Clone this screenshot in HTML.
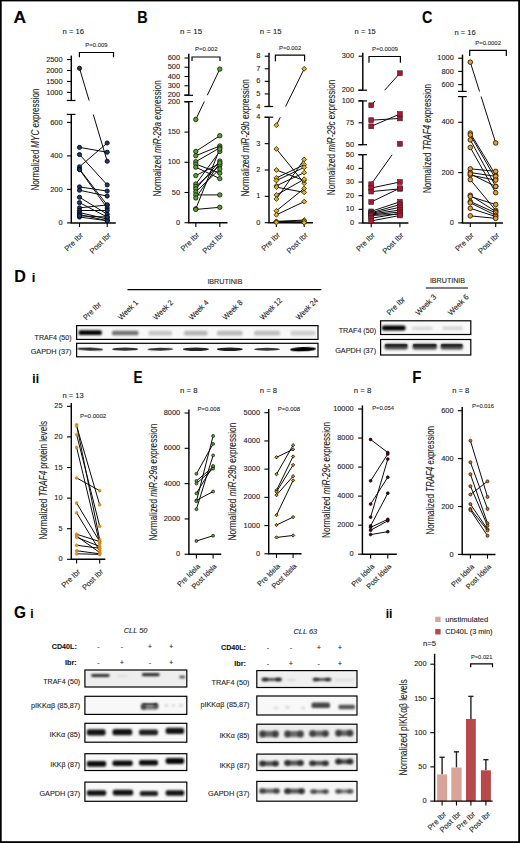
<!DOCTYPE html><html><head><meta charset="utf-8"><style>html,body{margin:0;padding:0;background:#fff;}body{width:520px;height:843px;overflow:hidden;position:relative;}text{stroke:#222;stroke-width:0.1px;}.brd{position:absolute;left:0;top:0;width:520px;height:843px;box-sizing:border-box;border:1.5px solid #000;pointer-events:none;}</style></head><body><svg width="520" height="843" viewBox="0 0 520 843" style="display:block;font-family:'Liberation Sans', sans-serif">
<defs>
<filter id="b1" x="-50%" y="-100%" width="200%" height="300%"><feGaussianBlur stdDeviation="0.9"/></filter>
<filter id="b2" x="-50%" y="-100%" width="200%" height="300%"><feGaussianBlur stdDeviation="1.3"/></filter>
<filter id="b05" x="-50%" y="-100%" width="200%" height="300%"><feGaussianBlur stdDeviation="0.6"/></filter>
</defs>
<rect x="0" y="0" width="520" height="843" fill="#fff"/>
<rect x="0" y="0" width="1.7" height="843" fill="#000"/><rect x="0" y="0" width="520" height="1.4" fill="#000"/><rect x="518.2" y="0" width="1.8" height="843" fill="#000"/><rect x="0" y="841.2" width="520" height="1.8" fill="#000"/>
<text x="13.50" y="22.80" font-size="16.6" text-anchor="start" font-weight="bold" textLength="12.60" lengthAdjust="spacingAndGlyphs" fill="#000">A</text>
<text x="137.30" y="23.00" font-size="16.6" text-anchor="start" font-weight="bold" textLength="10.40" lengthAdjust="spacingAndGlyphs" fill="#000">B</text>
<text x="422.00" y="22.80" font-size="16.6" text-anchor="start" font-weight="bold" textLength="10.40" lengthAdjust="spacingAndGlyphs" fill="#000">C</text>
<text x="14.20" y="281.60" font-size="16.6" text-anchor="start" font-weight="bold" textLength="11.60" lengthAdjust="spacingAndGlyphs" fill="#000">D</text>
<text x="31.70" y="281.60" font-size="13" text-anchor="start" font-weight="bold" fill="#000">i</text>
<text x="32.30" y="383.00" font-size="12" text-anchor="start" font-weight="bold" fill="#000">ii</text>
<text x="133.60" y="383.00" font-size="16.6" text-anchor="start" font-weight="bold" textLength="9.00" lengthAdjust="spacingAndGlyphs" fill="#000">E</text>
<text x="412.20" y="383.40" font-size="16.6" text-anchor="start" font-weight="bold" textLength="9.20" lengthAdjust="spacingAndGlyphs" fill="#000">F</text>
<text x="14.00" y="618.40" font-size="16.6" text-anchor="start" font-weight="bold" textLength="12.00" lengthAdjust="spacingAndGlyphs" fill="#000">G</text>
<text x="30.30" y="618.40" font-size="12" text-anchor="start" font-weight="bold" fill="#000">i</text>
<text x="385.70" y="617.60" font-size="12" text-anchor="start" font-weight="bold" fill="#000">ii</text>
<text x="73.25" y="34.40" font-size="7" text-anchor="middle" textLength="21.50" lengthAdjust="spacingAndGlyphs" fill="#222">n = 16</text>
<text x="96.40" y="46.90" font-size="5.6" text-anchor="middle" textLength="22.20" lengthAdjust="spacingAndGlyphs" fill="#333">P=0.009</text>
<path d="M79.40 57.30V52.50H113.50V57.30" fill="none" stroke="#000" stroke-width="1.2"/>
<text x="39.30" y="139.60" font-size="10.0" text-anchor="middle" textLength="102.00" lengthAdjust="spacingAndGlyphs" transform="rotate(-90 39.30 139.60)" fill="#222">Normalized <tspan font-style="italic">MYC</tspan> expression</text>
<clipPath id="cA"><rect x="0" y="0" width="520" height="100.5"/><rect x="0" y="114.4" width="520" height="200"/></clipPath>
<line x1="71.30" y1="55.60" x2="71.30" y2="100.50" stroke="#000" stroke-width="1.45"/>
<line x1="66.80" y1="100.50" x2="75.50" y2="100.50" stroke="#000" stroke-width="1.2"/>
<line x1="67.00" y1="59.55" x2="71.30" y2="59.55" stroke="#000" stroke-width="1.1"/>
<text x="62.60" y="61.65" font-size="7.4" text-anchor="end" fill="#222">2500</text>
<line x1="67.00" y1="70.50" x2="71.30" y2="70.50" stroke="#000" stroke-width="1.1"/>
<text x="62.60" y="72.60" font-size="7.4" text-anchor="end" fill="#222">2000</text>
<line x1="67.00" y1="81.45" x2="71.30" y2="81.45" stroke="#000" stroke-width="1.1"/>
<text x="62.60" y="83.55" font-size="7.4" text-anchor="end" fill="#222">1500</text>
<line x1="67.00" y1="92.40" x2="71.30" y2="92.40" stroke="#000" stroke-width="1.1"/>
<text x="62.60" y="94.50" font-size="7.4" text-anchor="end" fill="#222">1000</text>
<line x1="71.30" y1="114.40" x2="71.30" y2="222.90" stroke="#000" stroke-width="1.45"/>
<line x1="66.80" y1="114.40" x2="75.50" y2="114.40" stroke="#000" stroke-width="1.2"/>
<line x1="67.00" y1="122.40" x2="71.30" y2="122.40" stroke="#000" stroke-width="1.1"/>
<text x="62.60" y="124.50" font-size="7.4" text-anchor="end" fill="#222">600</text>
<line x1="67.00" y1="155.90" x2="71.30" y2="155.90" stroke="#000" stroke-width="1.1"/>
<text x="62.60" y="158.00" font-size="7.4" text-anchor="end" fill="#222">400</text>
<line x1="67.00" y1="189.40" x2="71.30" y2="189.40" stroke="#000" stroke-width="1.1"/>
<text x="62.60" y="191.50" font-size="7.4" text-anchor="end" fill="#222">200</text>
<line x1="67.00" y1="222.90" x2="71.30" y2="222.90" stroke="#000" stroke-width="1.1"/>
<text x="62.60" y="225.00" font-size="7.4" text-anchor="end" fill="#222">0</text>
<line x1="70.60" y1="222.90" x2="115.80" y2="222.90" stroke="#000" stroke-width="1.45"/>
<line x1="79.50" y1="222.90" x2="79.50" y2="227.10" stroke="#000" stroke-width="1.1"/>
<line x1="107.20" y1="222.90" x2="107.20" y2="227.10" stroke="#000" stroke-width="1.1"/>
<text x="83.60" y="235.70" font-size="7.6" text-anchor="end" transform="rotate(-45 83.60 235.70)" fill="#222">Pre Ibr</text>
<text x="111.30" y="235.70" font-size="7.6" text-anchor="end" transform="rotate(-45 111.30 235.70)" fill="#222">Post Ibr</text>
<g clip-path="url(#cA)">
<line x1="79.50" y1="68.31" x2="107.20" y2="161.26" stroke="#0a0a0a" stroke-width="1.0"/>
<line x1="79.50" y1="147.36" x2="107.20" y2="152.22" stroke="#0a0a0a" stroke-width="1.0"/>
<line x1="79.50" y1="154.56" x2="107.20" y2="184.88" stroke="#0a0a0a" stroke-width="1.0"/>
<line x1="79.50" y1="166.79" x2="107.20" y2="143.00" stroke="#0a0a0a" stroke-width="1.0"/>
<line x1="79.50" y1="169.13" x2="107.20" y2="204.98" stroke="#0a0a0a" stroke-width="1.0"/>
<line x1="79.50" y1="169.63" x2="107.20" y2="207.99" stroke="#0a0a0a" stroke-width="1.0"/>
<line x1="79.50" y1="186.89" x2="107.20" y2="191.07" stroke="#0a0a0a" stroke-width="1.0"/>
<line x1="79.50" y1="190.24" x2="107.20" y2="196.10" stroke="#0a0a0a" stroke-width="1.0"/>
<line x1="79.50" y1="197.27" x2="107.20" y2="214.19" stroke="#0a0a0a" stroke-width="1.0"/>
<line x1="79.50" y1="202.63" x2="107.20" y2="217.04" stroke="#0a0a0a" stroke-width="1.0"/>
<line x1="79.50" y1="207.83" x2="107.20" y2="204.98" stroke="#0a0a0a" stroke-width="1.0"/>
<line x1="79.50" y1="210.50" x2="107.20" y2="210.50" stroke="#0a0a0a" stroke-width="1.0"/>
<line x1="79.50" y1="212.52" x2="107.20" y2="219.05" stroke="#0a0a0a" stroke-width="1.0"/>
<line x1="79.50" y1="214.53" x2="107.20" y2="220.72" stroke="#0a0a0a" stroke-width="1.0"/>
<line x1="79.50" y1="217.04" x2="107.20" y2="220.72" stroke="#0a0a0a" stroke-width="1.0"/>
<line x1="79.50" y1="215.87" x2="107.20" y2="217.04" stroke="#0a0a0a" stroke-width="1.0"/>
</g>
<circle cx="79.50" cy="68.31" r="2.1" fill="#1b3a72" stroke="#000" stroke-width="0.8"/>
<circle cx="107.20" cy="161.26" r="2.1" fill="#1b3a72" stroke="#000" stroke-width="0.8"/>
<circle cx="79.50" cy="147.36" r="2.1" fill="#1b3a72" stroke="#000" stroke-width="0.8"/>
<circle cx="107.20" cy="152.22" r="2.1" fill="#1b3a72" stroke="#000" stroke-width="0.8"/>
<circle cx="79.50" cy="154.56" r="2.1" fill="#1b3a72" stroke="#000" stroke-width="0.8"/>
<circle cx="107.20" cy="184.88" r="2.1" fill="#1b3a72" stroke="#000" stroke-width="0.8"/>
<circle cx="79.50" cy="166.79" r="2.1" fill="#1b3a72" stroke="#000" stroke-width="0.8"/>
<circle cx="107.20" cy="143.00" r="2.1" fill="#1b3a72" stroke="#000" stroke-width="0.8"/>
<circle cx="79.50" cy="169.13" r="2.1" fill="#1b3a72" stroke="#000" stroke-width="0.8"/>
<circle cx="107.20" cy="204.98" r="2.1" fill="#1b3a72" stroke="#000" stroke-width="0.8"/>
<circle cx="79.50" cy="169.63" r="2.1" fill="#1b3a72" stroke="#000" stroke-width="0.8"/>
<circle cx="107.20" cy="207.99" r="2.1" fill="#1b3a72" stroke="#000" stroke-width="0.8"/>
<circle cx="79.50" cy="186.89" r="2.1" fill="#1b3a72" stroke="#000" stroke-width="0.8"/>
<circle cx="107.20" cy="191.07" r="2.1" fill="#1b3a72" stroke="#000" stroke-width="0.8"/>
<circle cx="79.50" cy="190.24" r="2.1" fill="#1b3a72" stroke="#000" stroke-width="0.8"/>
<circle cx="107.20" cy="196.10" r="2.1" fill="#1b3a72" stroke="#000" stroke-width="0.8"/>
<circle cx="79.50" cy="197.27" r="2.1" fill="#1b3a72" stroke="#000" stroke-width="0.8"/>
<circle cx="107.20" cy="214.19" r="2.1" fill="#1b3a72" stroke="#000" stroke-width="0.8"/>
<circle cx="79.50" cy="202.63" r="2.1" fill="#1b3a72" stroke="#000" stroke-width="0.8"/>
<circle cx="107.20" cy="217.04" r="2.1" fill="#1b3a72" stroke="#000" stroke-width="0.8"/>
<circle cx="79.50" cy="207.83" r="2.1" fill="#1b3a72" stroke="#000" stroke-width="0.8"/>
<circle cx="107.20" cy="204.98" r="2.1" fill="#1b3a72" stroke="#000" stroke-width="0.8"/>
<circle cx="79.50" cy="210.50" r="2.1" fill="#1b3a72" stroke="#000" stroke-width="0.8"/>
<circle cx="107.20" cy="210.50" r="2.1" fill="#1b3a72" stroke="#000" stroke-width="0.8"/>
<circle cx="79.50" cy="212.52" r="2.1" fill="#1b3a72" stroke="#000" stroke-width="0.8"/>
<circle cx="107.20" cy="219.05" r="2.1" fill="#1b3a72" stroke="#000" stroke-width="0.8"/>
<circle cx="79.50" cy="214.53" r="2.1" fill="#1b3a72" stroke="#000" stroke-width="0.8"/>
<circle cx="107.20" cy="220.72" r="2.1" fill="#1b3a72" stroke="#000" stroke-width="0.8"/>
<circle cx="79.50" cy="217.04" r="2.1" fill="#1b3a72" stroke="#000" stroke-width="0.8"/>
<circle cx="107.20" cy="220.72" r="2.1" fill="#1b3a72" stroke="#000" stroke-width="0.8"/>
<circle cx="79.50" cy="215.87" r="2.1" fill="#1b3a72" stroke="#000" stroke-width="0.8"/>
<circle cx="107.20" cy="217.04" r="2.1" fill="#1b3a72" stroke="#000" stroke-width="0.8"/>
<text x="191.00" y="34.40" font-size="7" text-anchor="middle" textLength="22.00" lengthAdjust="spacingAndGlyphs" fill="#222">n = 15</text>
<text x="206.25" y="51.00" font-size="5.6" text-anchor="middle" textLength="22.50" lengthAdjust="spacingAndGlyphs" fill="#333">P=0.002</text>
<path d="M192.00 61.00V57.00H220.00V61.00" fill="none" stroke="#000" stroke-width="1.2"/>
<text x="160.80" y="138.40" font-size="10.0" text-anchor="middle" textLength="116.20" lengthAdjust="spacingAndGlyphs" transform="rotate(-90 160.80 138.40)" fill="#222">Normalized <tspan font-style="italic">miR-29a</tspan> expression</text>
<clipPath id="cB1"><rect x="0" y="0" width="520" height="95.3"/><rect x="0" y="101.6" width="520" height="200"/></clipPath>
<line x1="188.80" y1="53.75" x2="188.80" y2="95.30" stroke="#000" stroke-width="1.45"/>
<line x1="184.30" y1="95.30" x2="193.00" y2="95.30" stroke="#000" stroke-width="1.2"/>
<line x1="184.50" y1="58.00" x2="188.80" y2="58.00" stroke="#000" stroke-width="1.1"/>
<text x="180.10" y="60.10" font-size="7.4" text-anchor="end" fill="#222">600</text>
<line x1="184.50" y1="67.25" x2="188.80" y2="67.25" stroke="#000" stroke-width="1.1"/>
<text x="180.10" y="69.35" font-size="7.4" text-anchor="end" fill="#222">500</text>
<line x1="184.50" y1="76.50" x2="188.80" y2="76.50" stroke="#000" stroke-width="1.1"/>
<text x="180.10" y="78.60" font-size="7.4" text-anchor="end" fill="#222">400</text>
<line x1="184.50" y1="85.75" x2="188.80" y2="85.75" stroke="#000" stroke-width="1.1"/>
<text x="180.10" y="87.85" font-size="7.4" text-anchor="end" fill="#222">300</text>
<line x1="184.50" y1="95.00" x2="188.80" y2="95.00" stroke="#000" stroke-width="1.1"/>
<text x="180.10" y="97.10" font-size="7.4" text-anchor="end" fill="#222">200</text>
<line x1="188.80" y1="101.60" x2="188.80" y2="222.70" stroke="#000" stroke-width="1.45"/>
<line x1="184.30" y1="101.60" x2="193.00" y2="101.60" stroke="#000" stroke-width="1.2"/>
<line x1="184.50" y1="101.90" x2="188.80" y2="101.90" stroke="#000" stroke-width="1.1"/>
<text x="180.10" y="104.00" font-size="7.4" text-anchor="end" fill="#222">200</text>
<line x1="184.50" y1="132.10" x2="188.80" y2="132.10" stroke="#000" stroke-width="1.1"/>
<text x="180.10" y="134.20" font-size="7.4" text-anchor="end" fill="#222">150</text>
<line x1="184.50" y1="162.30" x2="188.80" y2="162.30" stroke="#000" stroke-width="1.1"/>
<text x="180.10" y="164.40" font-size="7.4" text-anchor="end" fill="#222">100</text>
<line x1="184.50" y1="192.50" x2="188.80" y2="192.50" stroke="#000" stroke-width="1.1"/>
<text x="180.10" y="194.60" font-size="7.4" text-anchor="end" fill="#222">50</text>
<line x1="184.50" y1="222.70" x2="188.80" y2="222.70" stroke="#000" stroke-width="1.1"/>
<text x="180.10" y="224.80" font-size="7.4" text-anchor="end" fill="#222">0</text>
<line x1="188.10" y1="222.70" x2="227.50" y2="222.70" stroke="#000" stroke-width="1.45"/>
<line x1="195.80" y1="222.70" x2="195.80" y2="226.90" stroke="#000" stroke-width="1.1"/>
<line x1="219.80" y1="222.70" x2="219.80" y2="226.90" stroke="#000" stroke-width="1.1"/>
<text x="199.90" y="235.50" font-size="7.6" text-anchor="end" transform="rotate(-45 199.90 235.50)" fill="#222">Pre Ibr</text>
<text x="223.90" y="235.50" font-size="7.6" text-anchor="end" transform="rotate(-45 223.90 235.50)" fill="#222">Post Ibr</text>
<g clip-path="url(#cB1)">
<line x1="195.80" y1="119.42" x2="219.80" y2="69.10" stroke="#0a0a0a" stroke-width="1.0"/>
<line x1="195.80" y1="151.43" x2="219.80" y2="135.72" stroke="#0a0a0a" stroke-width="1.0"/>
<line x1="195.80" y1="155.66" x2="219.80" y2="145.99" stroke="#0a0a0a" stroke-width="1.0"/>
<line x1="195.80" y1="161.70" x2="219.80" y2="147.80" stroke="#0a0a0a" stroke-width="1.0"/>
<line x1="195.80" y1="164.11" x2="219.80" y2="173.17" stroke="#0a0a0a" stroke-width="1.0"/>
<line x1="195.80" y1="167.13" x2="219.80" y2="178.61" stroke="#0a0a0a" stroke-width="1.0"/>
<line x1="195.80" y1="175.59" x2="219.80" y2="163.51" stroke="#0a0a0a" stroke-width="1.0"/>
<line x1="195.80" y1="184.04" x2="219.80" y2="151.43" stroke="#0a0a0a" stroke-width="1.0"/>
<line x1="195.80" y1="186.46" x2="219.80" y2="165.32" stroke="#0a0a0a" stroke-width="1.0"/>
<line x1="195.80" y1="188.88" x2="219.80" y2="161.09" stroke="#0a0a0a" stroke-width="1.0"/>
<line x1="195.80" y1="191.90" x2="219.80" y2="168.94" stroke="#0a0a0a" stroke-width="1.0"/>
<line x1="195.80" y1="194.92" x2="219.80" y2="194.92" stroke="#0a0a0a" stroke-width="1.0"/>
<line x1="195.80" y1="197.94" x2="219.80" y2="162.90" stroke="#0a0a0a" stroke-width="1.0"/>
<line x1="195.80" y1="208.81" x2="219.80" y2="149.01" stroke="#0a0a0a" stroke-width="1.0"/>
<line x1="195.80" y1="209.41" x2="219.80" y2="207.30" stroke="#0a0a0a" stroke-width="1.0"/>
</g>
<circle cx="195.80" cy="119.42" r="2.2" fill="#58a22e" stroke="#111" stroke-width="0.8"/>
<circle cx="219.80" cy="69.10" r="2.2" fill="#58a22e" stroke="#111" stroke-width="0.8"/>
<circle cx="195.80" cy="151.43" r="2.2" fill="#58a22e" stroke="#111" stroke-width="0.8"/>
<circle cx="219.80" cy="135.72" r="2.2" fill="#58a22e" stroke="#111" stroke-width="0.8"/>
<circle cx="195.80" cy="155.66" r="2.2" fill="#58a22e" stroke="#111" stroke-width="0.8"/>
<circle cx="219.80" cy="145.99" r="2.2" fill="#58a22e" stroke="#111" stroke-width="0.8"/>
<circle cx="195.80" cy="161.70" r="2.2" fill="#58a22e" stroke="#111" stroke-width="0.8"/>
<circle cx="219.80" cy="147.80" r="2.2" fill="#58a22e" stroke="#111" stroke-width="0.8"/>
<circle cx="195.80" cy="164.11" r="2.2" fill="#58a22e" stroke="#111" stroke-width="0.8"/>
<circle cx="219.80" cy="173.17" r="2.2" fill="#58a22e" stroke="#111" stroke-width="0.8"/>
<circle cx="195.80" cy="167.13" r="2.2" fill="#58a22e" stroke="#111" stroke-width="0.8"/>
<circle cx="219.80" cy="178.61" r="2.2" fill="#58a22e" stroke="#111" stroke-width="0.8"/>
<circle cx="195.80" cy="175.59" r="2.2" fill="#58a22e" stroke="#111" stroke-width="0.8"/>
<circle cx="219.80" cy="163.51" r="2.2" fill="#58a22e" stroke="#111" stroke-width="0.8"/>
<circle cx="195.80" cy="184.04" r="2.2" fill="#58a22e" stroke="#111" stroke-width="0.8"/>
<circle cx="219.80" cy="151.43" r="2.2" fill="#58a22e" stroke="#111" stroke-width="0.8"/>
<circle cx="195.80" cy="186.46" r="2.2" fill="#58a22e" stroke="#111" stroke-width="0.8"/>
<circle cx="219.80" cy="165.32" r="2.2" fill="#58a22e" stroke="#111" stroke-width="0.8"/>
<circle cx="195.80" cy="188.88" r="2.2" fill="#58a22e" stroke="#111" stroke-width="0.8"/>
<circle cx="219.80" cy="161.09" r="2.2" fill="#58a22e" stroke="#111" stroke-width="0.8"/>
<circle cx="195.80" cy="191.90" r="2.2" fill="#58a22e" stroke="#111" stroke-width="0.8"/>
<circle cx="219.80" cy="168.94" r="2.2" fill="#58a22e" stroke="#111" stroke-width="0.8"/>
<circle cx="195.80" cy="194.92" r="2.2" fill="#58a22e" stroke="#111" stroke-width="0.8"/>
<circle cx="219.80" cy="194.92" r="2.2" fill="#58a22e" stroke="#111" stroke-width="0.8"/>
<circle cx="195.80" cy="197.94" r="2.2" fill="#58a22e" stroke="#111" stroke-width="0.8"/>
<circle cx="219.80" cy="162.90" r="2.2" fill="#58a22e" stroke="#111" stroke-width="0.8"/>
<circle cx="195.80" cy="208.81" r="2.2" fill="#58a22e" stroke="#111" stroke-width="0.8"/>
<circle cx="219.80" cy="149.01" r="2.2" fill="#58a22e" stroke="#111" stroke-width="0.8"/>
<circle cx="195.80" cy="209.41" r="2.2" fill="#58a22e" stroke="#111" stroke-width="0.8"/>
<circle cx="219.80" cy="207.30" r="2.2" fill="#58a22e" stroke="#111" stroke-width="0.8"/>
<text x="270.65" y="34.40" font-size="7" text-anchor="middle" textLength="21.70" lengthAdjust="spacingAndGlyphs" fill="#222">n = 15</text>
<text x="290.10" y="50.20" font-size="5.6" text-anchor="middle" textLength="22.20" lengthAdjust="spacingAndGlyphs" fill="#333">P=0.002</text>
<path d="M275.40 61.30V55.20H304.60V61.30" fill="none" stroke="#000" stroke-width="1.2"/>
<text x="248.90" y="137.80" font-size="10.0" text-anchor="middle" textLength="117.40" lengthAdjust="spacingAndGlyphs" transform="rotate(-90 248.90 137.80)" fill="#222">Normalized <tspan font-style="italic">miR-29b</tspan> expression</text>
<clipPath id="cB2"><rect x="0" y="0" width="520" height="106.5"/><rect x="0" y="117.2" width="520" height="200"/></clipPath>
<line x1="269.00" y1="52.70" x2="269.00" y2="106.50" stroke="#000" stroke-width="1.45"/>
<line x1="264.50" y1="106.50" x2="273.20" y2="106.50" stroke="#000" stroke-width="1.2"/>
<line x1="264.70" y1="56.20" x2="269.00" y2="56.20" stroke="#000" stroke-width="1.1"/>
<text x="260.30" y="58.30" font-size="7.4" text-anchor="end" fill="#222">8</text>
<line x1="264.70" y1="68.78" x2="269.00" y2="68.78" stroke="#000" stroke-width="1.1"/>
<text x="260.30" y="70.88" font-size="7.4" text-anchor="end" fill="#222">7</text>
<line x1="264.70" y1="81.35" x2="269.00" y2="81.35" stroke="#000" stroke-width="1.1"/>
<text x="260.30" y="83.45" font-size="7.4" text-anchor="end" fill="#222">6</text>
<line x1="264.70" y1="93.92" x2="269.00" y2="93.92" stroke="#000" stroke-width="1.1"/>
<text x="260.30" y="96.02" font-size="7.4" text-anchor="end" fill="#222">5</text>
<line x1="264.70" y1="106.50" x2="269.00" y2="106.50" stroke="#000" stroke-width="1.1"/>
<text x="260.30" y="108.60" font-size="7.4" text-anchor="end" fill="#222">4</text>
<line x1="269.00" y1="117.20" x2="269.00" y2="222.70" stroke="#000" stroke-width="1.45"/>
<line x1="264.50" y1="117.20" x2="273.20" y2="117.20" stroke="#000" stroke-width="1.2"/>
<line x1="264.70" y1="117.30" x2="269.00" y2="117.30" stroke="#000" stroke-width="1.1"/>
<text x="260.30" y="119.40" font-size="7.4" text-anchor="end" fill="#222">4</text>
<line x1="264.70" y1="143.65" x2="269.00" y2="143.65" stroke="#000" stroke-width="1.1"/>
<text x="260.30" y="145.75" font-size="7.4" text-anchor="end" fill="#222">3</text>
<line x1="264.70" y1="170.00" x2="269.00" y2="170.00" stroke="#000" stroke-width="1.1"/>
<text x="260.30" y="172.10" font-size="7.4" text-anchor="end" fill="#222">2</text>
<line x1="264.70" y1="196.35" x2="269.00" y2="196.35" stroke="#000" stroke-width="1.1"/>
<text x="260.30" y="198.45" font-size="7.4" text-anchor="end" fill="#222">1</text>
<line x1="264.70" y1="222.70" x2="269.00" y2="222.70" stroke="#000" stroke-width="1.1"/>
<text x="260.30" y="224.80" font-size="7.4" text-anchor="end" fill="#222">0</text>
<line x1="268.30" y1="222.70" x2="313.00" y2="222.70" stroke="#000" stroke-width="1.45"/>
<line x1="276.40" y1="222.70" x2="276.40" y2="226.90" stroke="#000" stroke-width="1.1"/>
<line x1="304.20" y1="222.70" x2="304.20" y2="226.90" stroke="#000" stroke-width="1.1"/>
<text x="280.50" y="235.50" font-size="7.6" text-anchor="end" transform="rotate(-45 280.50 235.50)" fill="#222">Pre Ibr</text>
<text x="308.30" y="235.50" font-size="7.6" text-anchor="end" transform="rotate(-45 308.30 235.50)" fill="#222">Post Ibr</text>
<g clip-path="url(#cB2)">
<line x1="276.40" y1="125.20" x2="304.20" y2="68.78" stroke="#0a0a0a" stroke-width="1.0"/>
<line x1="276.40" y1="148.92" x2="304.20" y2="183.17" stroke="#0a0a0a" stroke-width="1.0"/>
<line x1="276.40" y1="170.00" x2="304.20" y2="180.54" stroke="#0a0a0a" stroke-width="1.0"/>
<line x1="276.40" y1="177.91" x2="304.20" y2="164.73" stroke="#0a0a0a" stroke-width="1.0"/>
<line x1="276.40" y1="180.54" x2="304.20" y2="167.36" stroke="#0a0a0a" stroke-width="1.0"/>
<line x1="276.40" y1="185.81" x2="304.20" y2="172.63" stroke="#0a0a0a" stroke-width="1.0"/>
<line x1="276.40" y1="187.13" x2="304.20" y2="192.40" stroke="#0a0a0a" stroke-width="1.0"/>
<line x1="276.40" y1="195.03" x2="304.20" y2="179.22" stroke="#0a0a0a" stroke-width="1.0"/>
<line x1="276.40" y1="198.98" x2="304.20" y2="159.46" stroke="#0a0a0a" stroke-width="1.0"/>
<line x1="276.40" y1="210.84" x2="304.20" y2="188.44" stroke="#0a0a0a" stroke-width="1.0"/>
<line x1="276.40" y1="214.79" x2="304.20" y2="201.62" stroke="#0a0a0a" stroke-width="1.0"/>
<line x1="276.40" y1="221.38" x2="304.20" y2="220.06" stroke="#0a0a0a" stroke-width="1.0"/>
<line x1="276.40" y1="222.17" x2="304.20" y2="222.17" stroke="#0a0a0a" stroke-width="1.0"/>
<line x1="276.40" y1="221.65" x2="304.20" y2="221.12" stroke="#0a0a0a" stroke-width="1.0"/>
<line x1="276.40" y1="222.44" x2="304.20" y2="222.70" stroke="#0a0a0a" stroke-width="1.0"/>
</g>
<path d="M276.40 122.75L278.85 125.20L276.40 127.66L273.95 125.20Z" fill="#e9b30e" stroke="#111" stroke-width="0.75"/>
<path d="M304.20 66.33L306.65 68.78L304.20 71.23L301.75 68.78Z" fill="#e9b30e" stroke="#111" stroke-width="0.75"/>
<path d="M276.40 146.47L278.85 148.92L276.40 151.37L273.95 148.92Z" fill="#e9b30e" stroke="#111" stroke-width="0.75"/>
<path d="M304.20 180.72L306.65 183.17L304.20 185.62L301.75 183.17Z" fill="#e9b30e" stroke="#111" stroke-width="0.75"/>
<path d="M276.40 167.55L278.85 170.00L276.40 172.45L273.95 170.00Z" fill="#e9b30e" stroke="#111" stroke-width="0.75"/>
<path d="M304.20 178.09L306.65 180.54L304.20 182.99L301.75 180.54Z" fill="#e9b30e" stroke="#111" stroke-width="0.75"/>
<path d="M276.40 175.46L278.85 177.91L276.40 180.35L273.95 177.91Z" fill="#e9b30e" stroke="#111" stroke-width="0.75"/>
<path d="M304.20 162.28L306.65 164.73L304.20 167.18L301.75 164.73Z" fill="#e9b30e" stroke="#111" stroke-width="0.75"/>
<path d="M276.40 178.09L278.85 180.54L276.40 182.99L273.95 180.54Z" fill="#e9b30e" stroke="#111" stroke-width="0.75"/>
<path d="M304.20 164.91L306.65 167.36L304.20 169.81L301.75 167.36Z" fill="#e9b30e" stroke="#111" stroke-width="0.75"/>
<path d="M276.40 183.36L278.85 185.81L276.40 188.26L273.95 185.81Z" fill="#e9b30e" stroke="#111" stroke-width="0.75"/>
<path d="M304.20 170.19L306.65 172.63L304.20 175.08L301.75 172.63Z" fill="#e9b30e" stroke="#111" stroke-width="0.75"/>
<path d="M276.40 184.68L278.85 187.13L276.40 189.58L273.95 187.13Z" fill="#e9b30e" stroke="#111" stroke-width="0.75"/>
<path d="M304.20 189.95L306.65 192.40L304.20 194.85L301.75 192.40Z" fill="#e9b30e" stroke="#111" stroke-width="0.75"/>
<path d="M276.40 192.58L278.85 195.03L276.40 197.48L273.95 195.03Z" fill="#e9b30e" stroke="#111" stroke-width="0.75"/>
<path d="M304.20 176.77L306.65 179.22L304.20 181.67L301.75 179.22Z" fill="#e9b30e" stroke="#111" stroke-width="0.75"/>
<path d="M276.40 196.53L278.85 198.98L276.40 201.43L273.95 198.98Z" fill="#e9b30e" stroke="#111" stroke-width="0.75"/>
<path d="M304.20 157.01L306.65 159.46L304.20 161.91L301.75 159.46Z" fill="#e9b30e" stroke="#111" stroke-width="0.75"/>
<path d="M276.40 208.39L278.85 210.84L276.40 213.29L273.95 210.84Z" fill="#e9b30e" stroke="#111" stroke-width="0.75"/>
<path d="M304.20 186.00L306.65 188.44L304.20 190.89L301.75 188.44Z" fill="#e9b30e" stroke="#111" stroke-width="0.75"/>
<path d="M276.40 212.34L278.85 214.79L276.40 217.24L273.95 214.79Z" fill="#e9b30e" stroke="#111" stroke-width="0.75"/>
<path d="M304.20 199.17L306.65 201.62L304.20 204.07L301.75 201.62Z" fill="#e9b30e" stroke="#111" stroke-width="0.75"/>
<path d="M276.40 218.93L278.85 221.38L276.40 223.83L273.95 221.38Z" fill="#e9b30e" stroke="#111" stroke-width="0.75"/>
<path d="M304.20 217.62L306.65 220.06L304.20 222.51L301.75 220.06Z" fill="#e9b30e" stroke="#111" stroke-width="0.75"/>
<path d="M276.40 219.72L278.85 222.17L276.40 224.62L273.95 222.17Z" fill="#e9b30e" stroke="#111" stroke-width="0.75"/>
<path d="M304.20 219.72L306.65 222.17L304.20 224.62L301.75 222.17Z" fill="#e9b30e" stroke="#111" stroke-width="0.75"/>
<path d="M276.40 219.20L278.85 221.65L276.40 224.10L273.95 221.65Z" fill="#e9b30e" stroke="#111" stroke-width="0.75"/>
<path d="M304.20 218.67L306.65 221.12L304.20 223.57L301.75 221.12Z" fill="#e9b30e" stroke="#111" stroke-width="0.75"/>
<path d="M276.40 219.99L278.85 222.44L276.40 224.89L273.95 222.44Z" fill="#e9b30e" stroke="#111" stroke-width="0.75"/>
<path d="M304.20 220.25L306.65 222.70L304.20 225.15L301.75 222.70Z" fill="#e9b30e" stroke="#111" stroke-width="0.75"/>
<text x="365.20" y="34.40" font-size="7" text-anchor="middle" textLength="21.20" lengthAdjust="spacingAndGlyphs" fill="#222">n = 15</text>
<text x="384.90" y="51.30" font-size="5.6" text-anchor="middle" textLength="26.00" lengthAdjust="spacingAndGlyphs" fill="#333">P=0.0009</text>
<path d="M369.00 62.70V56.50H400.40V62.70" fill="none" stroke="#000" stroke-width="1.2"/>
<text x="334.80" y="137.50" font-size="10.0" text-anchor="middle" textLength="115.50" lengthAdjust="spacingAndGlyphs" transform="rotate(-90 334.80 137.50)" fill="#222">Normalized <tspan font-style="italic">miR-29c</tspan> expression</text>
<clipPath id="cB3"><rect x="0" y="0" width="520" height="90.2"/><rect x="0" y="100.9" width="520" height="43.8"/><rect x="0" y="154.7" width="520" height="200"/></clipPath>
<line x1="362.80" y1="52.70" x2="362.80" y2="90.20" stroke="#000" stroke-width="1.45"/>
<line x1="358.30" y1="90.20" x2="367.00" y2="90.20" stroke="#000" stroke-width="1.2"/>
<line x1="358.50" y1="56.20" x2="362.80" y2="56.20" stroke="#000" stroke-width="1.1"/>
<text x="354.10" y="58.30" font-size="7.4" text-anchor="end" fill="#222">300</text>
<line x1="358.50" y1="90.20" x2="362.80" y2="90.20" stroke="#000" stroke-width="1.1"/>
<text x="354.10" y="92.30" font-size="7.4" text-anchor="end" fill="#222">200</text>
<line x1="362.80" y1="100.90" x2="362.80" y2="144.70" stroke="#000" stroke-width="1.45"/>
<line x1="358.30" y1="100.90" x2="367.00" y2="100.90" stroke="#000" stroke-width="1.2"/>
<line x1="358.30" y1="144.70" x2="367.00" y2="144.70" stroke="#000" stroke-width="1.2"/>
<line x1="358.50" y1="100.90" x2="362.80" y2="100.90" stroke="#000" stroke-width="1.1"/>
<text x="354.10" y="103.00" font-size="7.4" text-anchor="end" fill="#222">100</text>
<line x1="358.50" y1="122.80" x2="362.80" y2="122.80" stroke="#000" stroke-width="1.1"/>
<text x="354.10" y="124.90" font-size="7.4" text-anchor="end" fill="#222">75</text>
<line x1="358.50" y1="144.70" x2="362.80" y2="144.70" stroke="#000" stroke-width="1.1"/>
<text x="354.10" y="146.80" font-size="7.4" text-anchor="end" fill="#222">50</text>
<line x1="362.80" y1="154.70" x2="362.80" y2="223.00" stroke="#000" stroke-width="1.45"/>
<line x1="358.30" y1="154.70" x2="367.00" y2="154.70" stroke="#000" stroke-width="1.2"/>
<line x1="358.50" y1="154.70" x2="362.80" y2="154.70" stroke="#000" stroke-width="1.1"/>
<text x="354.10" y="156.80" font-size="7.4" text-anchor="end" fill="#222">50</text>
<line x1="358.50" y1="168.36" x2="362.80" y2="168.36" stroke="#000" stroke-width="1.1"/>
<text x="354.10" y="170.46" font-size="7.4" text-anchor="end" fill="#222">40</text>
<line x1="358.50" y1="182.02" x2="362.80" y2="182.02" stroke="#000" stroke-width="1.1"/>
<text x="354.10" y="184.12" font-size="7.4" text-anchor="end" fill="#222">30</text>
<line x1="358.50" y1="195.68" x2="362.80" y2="195.68" stroke="#000" stroke-width="1.1"/>
<text x="354.10" y="197.78" font-size="7.4" text-anchor="end" fill="#222">20</text>
<line x1="358.50" y1="209.34" x2="362.80" y2="209.34" stroke="#000" stroke-width="1.1"/>
<text x="354.10" y="211.44" font-size="7.4" text-anchor="end" fill="#222">10</text>
<line x1="358.50" y1="223.00" x2="362.80" y2="223.00" stroke="#000" stroke-width="1.1"/>
<text x="354.10" y="225.10" font-size="7.4" text-anchor="end" fill="#222">0</text>
<line x1="362.10" y1="223.00" x2="408.40" y2="223.00" stroke="#000" stroke-width="1.45"/>
<line x1="371.20" y1="223.00" x2="371.20" y2="227.20" stroke="#000" stroke-width="1.1"/>
<line x1="399.90" y1="223.00" x2="399.90" y2="227.20" stroke="#000" stroke-width="1.1"/>
<text x="375.30" y="235.80" font-size="7.6" text-anchor="end" transform="rotate(-45 375.30 235.80)" fill="#222">Pre Ibr</text>
<text x="404.00" y="235.80" font-size="7.6" text-anchor="end" transform="rotate(-45 404.00 235.80)" fill="#222">Post Ibr</text>
<g clip-path="url(#cB3)">
<line x1="371.20" y1="105.28" x2="399.90" y2="73.20" stroke="#0a0a0a" stroke-width="1.0"/>
<line x1="371.20" y1="120.17" x2="399.90" y2="118.42" stroke="#0a0a0a" stroke-width="1.0"/>
<line x1="371.20" y1="126.30" x2="399.90" y2="114.04" stroke="#0a0a0a" stroke-width="1.0"/>
<line x1="371.20" y1="184.21" x2="399.90" y2="143.82" stroke="#0a0a0a" stroke-width="1.0"/>
<line x1="371.20" y1="188.03" x2="399.90" y2="182.02" stroke="#0a0a0a" stroke-width="1.0"/>
<line x1="371.20" y1="191.58" x2="399.90" y2="188.85" stroke="#0a0a0a" stroke-width="1.0"/>
<line x1="371.20" y1="201.96" x2="399.90" y2="188.17" stroke="#0a0a0a" stroke-width="1.0"/>
<line x1="371.20" y1="211.39" x2="399.90" y2="201.83" stroke="#0a0a0a" stroke-width="1.0"/>
<line x1="371.20" y1="212.75" x2="399.90" y2="204.56" stroke="#0a0a0a" stroke-width="1.0"/>
<line x1="371.20" y1="213.44" x2="399.90" y2="207.29" stroke="#0a0a0a" stroke-width="1.0"/>
<line x1="371.20" y1="214.12" x2="399.90" y2="210.02" stroke="#0a0a0a" stroke-width="1.0"/>
<line x1="371.20" y1="214.80" x2="399.90" y2="212.07" stroke="#0a0a0a" stroke-width="1.0"/>
<line x1="371.20" y1="215.49" x2="399.90" y2="214.12" stroke="#0a0a0a" stroke-width="1.0"/>
<line x1="371.20" y1="218.22" x2="399.90" y2="213.44" stroke="#0a0a0a" stroke-width="1.0"/>
<line x1="371.20" y1="220.95" x2="399.90" y2="215.49" stroke="#0a0a0a" stroke-width="1.0"/>
</g>
<rect x="368.80" y="102.88" width="4.80" height="4.80" fill="#b8102e" stroke="#222" stroke-width="0.6"/>
<rect x="397.50" y="70.80" width="4.80" height="4.80" fill="#b8102e" stroke="#222" stroke-width="0.6"/>
<rect x="368.80" y="117.77" width="4.80" height="4.80" fill="#b8102e" stroke="#222" stroke-width="0.6"/>
<rect x="397.50" y="116.02" width="4.80" height="4.80" fill="#b8102e" stroke="#222" stroke-width="0.6"/>
<rect x="368.80" y="123.90" width="4.80" height="4.80" fill="#b8102e" stroke="#222" stroke-width="0.6"/>
<rect x="397.50" y="111.64" width="4.80" height="4.80" fill="#b8102e" stroke="#222" stroke-width="0.6"/>
<rect x="368.80" y="181.81" width="4.80" height="4.80" fill="#b8102e" stroke="#222" stroke-width="0.6"/>
<rect x="397.50" y="141.42" width="4.80" height="4.80" fill="#b8102e" stroke="#222" stroke-width="0.6"/>
<rect x="368.80" y="185.63" width="4.80" height="4.80" fill="#b8102e" stroke="#222" stroke-width="0.6"/>
<rect x="397.50" y="179.62" width="4.80" height="4.80" fill="#b8102e" stroke="#222" stroke-width="0.6"/>
<rect x="368.80" y="189.18" width="4.80" height="4.80" fill="#b8102e" stroke="#222" stroke-width="0.6"/>
<rect x="397.50" y="186.45" width="4.80" height="4.80" fill="#b8102e" stroke="#222" stroke-width="0.6"/>
<rect x="368.80" y="199.56" width="4.80" height="4.80" fill="#b8102e" stroke="#222" stroke-width="0.6"/>
<rect x="397.50" y="185.77" width="4.80" height="4.80" fill="#b8102e" stroke="#222" stroke-width="0.6"/>
<rect x="368.80" y="208.99" width="4.80" height="4.80" fill="#b8102e" stroke="#222" stroke-width="0.6"/>
<rect x="397.50" y="199.43" width="4.80" height="4.80" fill="#b8102e" stroke="#222" stroke-width="0.6"/>
<rect x="368.80" y="210.35" width="4.80" height="4.80" fill="#b8102e" stroke="#222" stroke-width="0.6"/>
<rect x="397.50" y="202.16" width="4.80" height="4.80" fill="#b8102e" stroke="#222" stroke-width="0.6"/>
<rect x="368.80" y="211.04" width="4.80" height="4.80" fill="#b8102e" stroke="#222" stroke-width="0.6"/>
<rect x="397.50" y="204.89" width="4.80" height="4.80" fill="#b8102e" stroke="#222" stroke-width="0.6"/>
<rect x="368.80" y="211.72" width="4.80" height="4.80" fill="#b8102e" stroke="#222" stroke-width="0.6"/>
<rect x="397.50" y="207.62" width="4.80" height="4.80" fill="#b8102e" stroke="#222" stroke-width="0.6"/>
<rect x="368.80" y="212.40" width="4.80" height="4.80" fill="#b8102e" stroke="#222" stroke-width="0.6"/>
<rect x="397.50" y="209.67" width="4.80" height="4.80" fill="#b8102e" stroke="#222" stroke-width="0.6"/>
<rect x="368.80" y="213.09" width="4.80" height="4.80" fill="#b8102e" stroke="#222" stroke-width="0.6"/>
<rect x="397.50" y="211.72" width="4.80" height="4.80" fill="#b8102e" stroke="#222" stroke-width="0.6"/>
<rect x="368.80" y="215.82" width="4.80" height="4.80" fill="#b8102e" stroke="#222" stroke-width="0.6"/>
<rect x="397.50" y="211.04" width="4.80" height="4.80" fill="#b8102e" stroke="#222" stroke-width="0.6"/>
<rect x="368.80" y="218.55" width="4.80" height="4.80" fill="#b8102e" stroke="#222" stroke-width="0.6"/>
<rect x="397.50" y="213.09" width="4.80" height="4.80" fill="#b8102e" stroke="#222" stroke-width="0.6"/>
<text x="465.00" y="34.50" font-size="7" text-anchor="middle" textLength="21.20" lengthAdjust="spacingAndGlyphs" fill="#222">n = 16</text>
<text x="488.10" y="45.10" font-size="5.6" text-anchor="middle" textLength="25.80" lengthAdjust="spacingAndGlyphs" fill="#333">P=0.0002</text>
<path d="M469.70 56.00V50.30H506.30V56.00" fill="none" stroke="#000" stroke-width="1.2"/>
<text x="430.50" y="138.50" font-size="10.0" text-anchor="middle" textLength="109.10" lengthAdjust="spacingAndGlyphs" transform="rotate(-90 430.50 138.50)" fill="#222">Normalized <tspan font-style="italic">TRAF4</tspan> expression</text>
<clipPath id="cC"><rect x="0" y="0" width="520" height="91.4"/><rect x="0" y="96.6" width="520" height="200"/></clipPath>
<line x1="462.50" y1="54.60" x2="462.50" y2="91.40" stroke="#000" stroke-width="1.45"/>
<line x1="458.00" y1="91.40" x2="466.70" y2="91.40" stroke="#000" stroke-width="1.2"/>
<line x1="458.20" y1="58.20" x2="462.50" y2="58.20" stroke="#000" stroke-width="1.1"/>
<text x="453.80" y="60.30" font-size="7.4" text-anchor="end" fill="#222">1000</text>
<line x1="458.20" y1="71.40" x2="462.50" y2="71.40" stroke="#000" stroke-width="1.1"/>
<text x="453.80" y="73.50" font-size="7.4" text-anchor="end" fill="#222">800</text>
<line x1="458.20" y1="84.60" x2="462.50" y2="84.60" stroke="#000" stroke-width="1.1"/>
<text x="453.80" y="86.70" font-size="7.4" text-anchor="end" fill="#222">600</text>
<line x1="462.50" y1="96.60" x2="462.50" y2="222.90" stroke="#000" stroke-width="1.45"/>
<line x1="458.00" y1="96.60" x2="466.70" y2="96.60" stroke="#000" stroke-width="1.2"/>
<line x1="458.20" y1="122.30" x2="462.50" y2="122.30" stroke="#000" stroke-width="1.1"/>
<text x="453.80" y="124.40" font-size="7.4" text-anchor="end" fill="#222">400</text>
<line x1="458.20" y1="172.60" x2="462.50" y2="172.60" stroke="#000" stroke-width="1.1"/>
<text x="453.80" y="174.70" font-size="7.4" text-anchor="end" fill="#222">200</text>
<line x1="458.20" y1="222.90" x2="462.50" y2="222.90" stroke="#000" stroke-width="1.1"/>
<text x="453.80" y="225.00" font-size="7.4" text-anchor="end" fill="#222">0</text>
<line x1="461.80" y1="222.90" x2="503.00" y2="222.90" stroke="#000" stroke-width="1.45"/>
<line x1="470.30" y1="222.90" x2="470.30" y2="227.10" stroke="#000" stroke-width="1.1"/>
<line x1="495.70" y1="222.90" x2="495.70" y2="227.10" stroke="#000" stroke-width="1.1"/>
<text x="474.40" y="235.70" font-size="7.6" text-anchor="end" transform="rotate(-45 474.40 235.70)" fill="#222">Pre Ibr</text>
<text x="499.80" y="235.70" font-size="7.6" text-anchor="end" transform="rotate(-45 499.80 235.70)" fill="#222">Post Ibr</text>
<g clip-path="url(#cC)">
<line x1="470.30" y1="62.16" x2="495.70" y2="142.92" stroke="#0a0a0a" stroke-width="1.0"/>
<line x1="470.30" y1="133.11" x2="495.70" y2="175.12" stroke="#0a0a0a" stroke-width="1.0"/>
<line x1="470.30" y1="134.88" x2="495.70" y2="178.89" stroke="#0a0a0a" stroke-width="1.0"/>
<line x1="470.30" y1="139.91" x2="495.70" y2="186.43" stroke="#0a0a0a" stroke-width="1.0"/>
<line x1="470.30" y1="147.45" x2="495.70" y2="192.72" stroke="#0a0a0a" stroke-width="1.0"/>
<line x1="470.30" y1="168.83" x2="495.70" y2="171.34" stroke="#0a0a0a" stroke-width="1.0"/>
<line x1="470.30" y1="172.60" x2="495.70" y2="176.37" stroke="#0a0a0a" stroke-width="1.0"/>
<line x1="470.30" y1="175.12" x2="495.70" y2="180.15" stroke="#0a0a0a" stroke-width="1.0"/>
<line x1="470.30" y1="179.64" x2="495.70" y2="210.33" stroke="#0a0a0a" stroke-width="1.0"/>
<line x1="470.30" y1="173.86" x2="495.70" y2="186.43" stroke="#0a0a0a" stroke-width="1.0"/>
<line x1="470.30" y1="195.24" x2="495.70" y2="211.58" stroke="#0a0a0a" stroke-width="1.0"/>
<line x1="470.30" y1="196.49" x2="495.70" y2="204.54" stroke="#0a0a0a" stroke-width="1.0"/>
<line x1="470.30" y1="201.52" x2="495.70" y2="212.84" stroke="#0a0a0a" stroke-width="1.0"/>
<line x1="470.30" y1="202.78" x2="495.70" y2="215.36" stroke="#0a0a0a" stroke-width="1.0"/>
<line x1="470.30" y1="208.31" x2="495.70" y2="216.61" stroke="#0a0a0a" stroke-width="1.0"/>
<line x1="470.30" y1="215.86" x2="495.70" y2="218.37" stroke="#0a0a0a" stroke-width="1.0"/>
</g>
<circle cx="470.30" cy="62.16" r="2.3" fill="#f29a1c" stroke="#111" stroke-width="0.8"/>
<circle cx="495.70" cy="142.92" r="2.3" fill="#f29a1c" stroke="#111" stroke-width="0.8"/>
<circle cx="470.30" cy="133.11" r="2.3" fill="#f29a1c" stroke="#111" stroke-width="0.8"/>
<circle cx="495.70" cy="175.12" r="2.3" fill="#f29a1c" stroke="#111" stroke-width="0.8"/>
<circle cx="470.30" cy="134.88" r="2.3" fill="#f29a1c" stroke="#111" stroke-width="0.8"/>
<circle cx="495.70" cy="178.89" r="2.3" fill="#f29a1c" stroke="#111" stroke-width="0.8"/>
<circle cx="470.30" cy="139.91" r="2.3" fill="#f29a1c" stroke="#111" stroke-width="0.8"/>
<circle cx="495.70" cy="186.43" r="2.3" fill="#f29a1c" stroke="#111" stroke-width="0.8"/>
<circle cx="470.30" cy="147.45" r="2.3" fill="#f29a1c" stroke="#111" stroke-width="0.8"/>
<circle cx="495.70" cy="192.72" r="2.3" fill="#f29a1c" stroke="#111" stroke-width="0.8"/>
<circle cx="470.30" cy="168.83" r="2.3" fill="#f29a1c" stroke="#111" stroke-width="0.8"/>
<circle cx="495.70" cy="171.34" r="2.3" fill="#f29a1c" stroke="#111" stroke-width="0.8"/>
<circle cx="470.30" cy="172.60" r="2.3" fill="#f29a1c" stroke="#111" stroke-width="0.8"/>
<circle cx="495.70" cy="176.37" r="2.3" fill="#f29a1c" stroke="#111" stroke-width="0.8"/>
<circle cx="470.30" cy="175.12" r="2.3" fill="#f29a1c" stroke="#111" stroke-width="0.8"/>
<circle cx="495.70" cy="180.15" r="2.3" fill="#f29a1c" stroke="#111" stroke-width="0.8"/>
<circle cx="470.30" cy="179.64" r="2.3" fill="#f29a1c" stroke="#111" stroke-width="0.8"/>
<circle cx="495.70" cy="210.33" r="2.3" fill="#f29a1c" stroke="#111" stroke-width="0.8"/>
<circle cx="470.30" cy="173.86" r="2.3" fill="#f29a1c" stroke="#111" stroke-width="0.8"/>
<circle cx="495.70" cy="186.43" r="2.3" fill="#f29a1c" stroke="#111" stroke-width="0.8"/>
<circle cx="470.30" cy="195.24" r="2.3" fill="#f29a1c" stroke="#111" stroke-width="0.8"/>
<circle cx="495.70" cy="211.58" r="2.3" fill="#f29a1c" stroke="#111" stroke-width="0.8"/>
<circle cx="470.30" cy="196.49" r="2.3" fill="#f29a1c" stroke="#111" stroke-width="0.8"/>
<circle cx="495.70" cy="204.54" r="2.3" fill="#f29a1c" stroke="#111" stroke-width="0.8"/>
<circle cx="470.30" cy="201.52" r="2.3" fill="#f29a1c" stroke="#111" stroke-width="0.8"/>
<circle cx="495.70" cy="212.84" r="2.3" fill="#f29a1c" stroke="#111" stroke-width="0.8"/>
<circle cx="470.30" cy="202.78" r="2.3" fill="#f29a1c" stroke="#111" stroke-width="0.8"/>
<circle cx="495.70" cy="215.36" r="2.3" fill="#f29a1c" stroke="#111" stroke-width="0.8"/>
<circle cx="470.30" cy="208.31" r="2.3" fill="#f29a1c" stroke="#111" stroke-width="0.8"/>
<circle cx="495.70" cy="216.61" r="2.3" fill="#f29a1c" stroke="#111" stroke-width="0.8"/>
<circle cx="470.30" cy="215.86" r="2.3" fill="#f29a1c" stroke="#111" stroke-width="0.8"/>
<circle cx="495.70" cy="218.37" r="2.3" fill="#f29a1c" stroke="#111" stroke-width="0.8"/>
<text x="73.12" y="397.50" font-size="7" text-anchor="middle" textLength="21.25" lengthAdjust="spacingAndGlyphs" fill="#222">n = 13</text>
<text x="93.12" y="417.60" font-size="5.6" text-anchor="middle" textLength="26.25" lengthAdjust="spacingAndGlyphs" fill="#333">P=0.0002</text>
<text x="47.30" y="480.30" font-size="10.0" text-anchor="middle" textLength="118.60" lengthAdjust="spacingAndGlyphs" transform="rotate(-90 47.30 480.30)" fill="#222">Normalized <tspan font-style="italic">TRAF4</tspan> protein levels</text>
<line x1="71.30" y1="403.00" x2="71.30" y2="559.30" stroke="#000" stroke-width="1.45"/>
<line x1="67.00" y1="406.30" x2="71.30" y2="406.30" stroke="#000" stroke-width="1.1"/>
<text x="62.60" y="408.40" font-size="7.4" text-anchor="end" fill="#222">25</text>
<line x1="67.00" y1="436.90" x2="71.30" y2="436.90" stroke="#000" stroke-width="1.1"/>
<text x="62.60" y="439.00" font-size="7.4" text-anchor="end" fill="#222">20</text>
<line x1="67.00" y1="467.50" x2="71.30" y2="467.50" stroke="#000" stroke-width="1.1"/>
<text x="62.60" y="469.60" font-size="7.4" text-anchor="end" fill="#222">15</text>
<line x1="67.00" y1="498.10" x2="71.30" y2="498.10" stroke="#000" stroke-width="1.1"/>
<text x="62.60" y="500.20" font-size="7.4" text-anchor="end" fill="#222">10</text>
<line x1="67.00" y1="528.70" x2="71.30" y2="528.70" stroke="#000" stroke-width="1.1"/>
<text x="62.60" y="530.80" font-size="7.4" text-anchor="end" fill="#222">5</text>
<line x1="67.00" y1="559.30" x2="71.30" y2="559.30" stroke="#000" stroke-width="1.1"/>
<text x="62.60" y="561.40" font-size="7.4" text-anchor="end" fill="#222">0</text>
<line x1="70.60" y1="559.30" x2="105.40" y2="559.30" stroke="#000" stroke-width="1.45"/>
<line x1="76.60" y1="559.30" x2="76.60" y2="563.50" stroke="#000" stroke-width="1.1"/>
<line x1="99.70" y1="559.30" x2="99.70" y2="563.50" stroke="#000" stroke-width="1.1"/>
<text x="80.70" y="572.10" font-size="7.6" text-anchor="end" transform="rotate(-45 80.70 572.10)" fill="#222">Pre Ibr</text>
<text x="103.80" y="572.10" font-size="7.6" text-anchor="end" transform="rotate(-45 103.80 572.10)" fill="#222">Post Ibr</text>
<g>
<line x1="76.60" y1="424.66" x2="99.70" y2="539.72" stroke="#0a0a0a" stroke-width="1.0"/>
<line x1="76.60" y1="425.88" x2="99.70" y2="504.83" stroke="#0a0a0a" stroke-width="1.0"/>
<line x1="76.60" y1="434.45" x2="99.70" y2="526.25" stroke="#0a0a0a" stroke-width="1.0"/>
<line x1="76.60" y1="447.30" x2="99.70" y2="543.39" stroke="#0a0a0a" stroke-width="1.0"/>
<line x1="76.60" y1="477.90" x2="99.70" y2="490.76" stroke="#0a0a0a" stroke-width="1.0"/>
<line x1="76.60" y1="503.00" x2="99.70" y2="541.55" stroke="#0a0a0a" stroke-width="1.0"/>
<line x1="76.60" y1="512.79" x2="99.70" y2="550.73" stroke="#0a0a0a" stroke-width="1.0"/>
<line x1="76.60" y1="534.21" x2="99.70" y2="541.55" stroke="#0a0a0a" stroke-width="1.0"/>
<line x1="76.60" y1="536.04" x2="99.70" y2="552.57" stroke="#0a0a0a" stroke-width="1.0"/>
<line x1="76.60" y1="537.27" x2="99.70" y2="546.45" stroke="#0a0a0a" stroke-width="1.0"/>
<line x1="76.60" y1="545.22" x2="99.70" y2="548.28" stroke="#0a0a0a" stroke-width="1.0"/>
<line x1="76.60" y1="550.73" x2="99.70" y2="553.79" stroke="#0a0a0a" stroke-width="1.0"/>
<line x1="76.60" y1="553.79" x2="99.70" y2="554.40" stroke="#0a0a0a" stroke-width="1.0"/>
</g>
<circle cx="76.60" cy="424.66" r="1.5" fill="#ee930f" stroke="#a06000" stroke-width="0.3"/>
<circle cx="99.70" cy="539.72" r="1.5" fill="#ee930f" stroke="#a06000" stroke-width="0.3"/>
<circle cx="76.60" cy="425.88" r="1.5" fill="#ee930f" stroke="#a06000" stroke-width="0.3"/>
<circle cx="99.70" cy="504.83" r="1.5" fill="#ee930f" stroke="#a06000" stroke-width="0.3"/>
<circle cx="76.60" cy="434.45" r="1.5" fill="#ee930f" stroke="#a06000" stroke-width="0.3"/>
<circle cx="99.70" cy="526.25" r="1.5" fill="#ee930f" stroke="#a06000" stroke-width="0.3"/>
<circle cx="76.60" cy="447.30" r="1.5" fill="#ee930f" stroke="#a06000" stroke-width="0.3"/>
<circle cx="99.70" cy="543.39" r="1.5" fill="#ee930f" stroke="#a06000" stroke-width="0.3"/>
<circle cx="76.60" cy="477.90" r="1.5" fill="#ee930f" stroke="#a06000" stroke-width="0.3"/>
<circle cx="99.70" cy="490.76" r="1.5" fill="#ee930f" stroke="#a06000" stroke-width="0.3"/>
<circle cx="76.60" cy="503.00" r="1.5" fill="#ee930f" stroke="#a06000" stroke-width="0.3"/>
<circle cx="99.70" cy="541.55" r="1.5" fill="#ee930f" stroke="#a06000" stroke-width="0.3"/>
<circle cx="76.60" cy="512.79" r="1.5" fill="#ee930f" stroke="#a06000" stroke-width="0.3"/>
<circle cx="99.70" cy="550.73" r="1.5" fill="#ee930f" stroke="#a06000" stroke-width="0.3"/>
<circle cx="76.60" cy="534.21" r="1.5" fill="#ee930f" stroke="#a06000" stroke-width="0.3"/>
<circle cx="99.70" cy="541.55" r="1.5" fill="#ee930f" stroke="#a06000" stroke-width="0.3"/>
<circle cx="76.60" cy="536.04" r="1.5" fill="#ee930f" stroke="#a06000" stroke-width="0.3"/>
<circle cx="99.70" cy="552.57" r="1.5" fill="#ee930f" stroke="#a06000" stroke-width="0.3"/>
<circle cx="76.60" cy="537.27" r="1.5" fill="#ee930f" stroke="#a06000" stroke-width="0.3"/>
<circle cx="99.70" cy="546.45" r="1.5" fill="#ee930f" stroke="#a06000" stroke-width="0.3"/>
<circle cx="76.60" cy="545.22" r="1.5" fill="#ee930f" stroke="#a06000" stroke-width="0.3"/>
<circle cx="99.70" cy="548.28" r="1.5" fill="#ee930f" stroke="#a06000" stroke-width="0.3"/>
<circle cx="76.60" cy="550.73" r="1.5" fill="#ee930f" stroke="#a06000" stroke-width="0.3"/>
<circle cx="99.70" cy="553.79" r="1.5" fill="#ee930f" stroke="#a06000" stroke-width="0.3"/>
<circle cx="76.60" cy="553.79" r="1.5" fill="#ee930f" stroke="#a06000" stroke-width="0.3"/>
<circle cx="99.70" cy="554.40" r="1.5" fill="#ee930f" stroke="#a06000" stroke-width="0.3"/>
<text x="188.75" y="392.50" font-size="7" text-anchor="middle" textLength="17.50" lengthAdjust="spacingAndGlyphs" fill="#222">n = 8</text>
<text x="208.75" y="410.50" font-size="5.6" text-anchor="middle" textLength="22.50" lengthAdjust="spacingAndGlyphs" fill="#333">P=0.008</text>
<text x="156.60" y="482.10" font-size="10.0" text-anchor="middle" textLength="116.80" lengthAdjust="spacingAndGlyphs" transform="rotate(-90 156.60 482.10)" fill="#222">Normalized <tspan font-style="italic">miR-29a</tspan> expression</text>
<line x1="188.90" y1="409.50" x2="188.90" y2="554.25" stroke="#000" stroke-width="1.45"/>
<line x1="184.60" y1="413.00" x2="188.90" y2="413.00" stroke="#000" stroke-width="1.1"/>
<text x="180.20" y="415.10" font-size="7.4" text-anchor="end" fill="#222">8000</text>
<line x1="184.60" y1="448.31" x2="188.90" y2="448.31" stroke="#000" stroke-width="1.1"/>
<text x="180.20" y="450.41" font-size="7.4" text-anchor="end" fill="#222">6000</text>
<line x1="184.60" y1="483.62" x2="188.90" y2="483.62" stroke="#000" stroke-width="1.1"/>
<text x="180.20" y="485.73" font-size="7.4" text-anchor="end" fill="#222">4000</text>
<line x1="184.60" y1="518.94" x2="188.90" y2="518.94" stroke="#000" stroke-width="1.1"/>
<text x="180.20" y="521.04" font-size="7.4" text-anchor="end" fill="#222">2000</text>
<line x1="184.60" y1="554.25" x2="188.90" y2="554.25" stroke="#000" stroke-width="1.1"/>
<text x="180.20" y="556.35" font-size="7.4" text-anchor="end" fill="#222">0</text>
<line x1="188.20" y1="554.25" x2="221.25" y2="554.25" stroke="#000" stroke-width="1.45"/>
<line x1="196.40" y1="554.25" x2="196.40" y2="558.45" stroke="#000" stroke-width="1.1"/>
<line x1="213.10" y1="554.25" x2="213.10" y2="558.45" stroke="#000" stroke-width="1.1"/>
<text x="200.50" y="567.05" font-size="7.6" text-anchor="end" textLength="28.60" lengthAdjust="spacingAndGlyphs" transform="rotate(-45 200.50 567.05)" fill="#222">Pre Idela</text>
<text x="217.20" y="567.05" font-size="7.6" text-anchor="end" textLength="31.80" lengthAdjust="spacingAndGlyphs" transform="rotate(-45 217.20 567.05)" fill="#222">Post Idela</text>
<g>
<line x1="196.40" y1="473.91" x2="213.10" y2="443.90" stroke="#0a0a0a" stroke-width="1.0"/>
<line x1="196.40" y1="480.98" x2="213.10" y2="466.85" stroke="#0a0a0a" stroke-width="1.0"/>
<line x1="196.40" y1="483.62" x2="213.10" y2="468.62" stroke="#0a0a0a" stroke-width="1.0"/>
<line x1="196.40" y1="493.34" x2="213.10" y2="465.97" stroke="#0a0a0a" stroke-width="1.0"/>
<line x1="196.40" y1="500.40" x2="213.10" y2="491.57" stroke="#0a0a0a" stroke-width="1.0"/>
<line x1="196.40" y1="501.28" x2="213.10" y2="435.95" stroke="#0a0a0a" stroke-width="1.0"/>
<line x1="196.40" y1="509.23" x2="213.10" y2="455.38" stroke="#0a0a0a" stroke-width="1.0"/>
<line x1="196.40" y1="541.01" x2="213.10" y2="535.71" stroke="#0a0a0a" stroke-width="1.0"/>
</g>
<circle cx="196.40" cy="473.91" r="1.45" fill="#4fae25" stroke="#111" stroke-width="0.7"/>
<circle cx="213.10" cy="443.90" r="1.45" fill="#4fae25" stroke="#111" stroke-width="0.7"/>
<circle cx="196.40" cy="480.98" r="1.45" fill="#4fae25" stroke="#111" stroke-width="0.7"/>
<circle cx="213.10" cy="466.85" r="1.45" fill="#4fae25" stroke="#111" stroke-width="0.7"/>
<circle cx="196.40" cy="483.62" r="1.45" fill="#4fae25" stroke="#111" stroke-width="0.7"/>
<circle cx="213.10" cy="468.62" r="1.45" fill="#4fae25" stroke="#111" stroke-width="0.7"/>
<circle cx="196.40" cy="493.34" r="1.45" fill="#4fae25" stroke="#111" stroke-width="0.7"/>
<circle cx="213.10" cy="465.97" r="1.45" fill="#4fae25" stroke="#111" stroke-width="0.7"/>
<circle cx="196.40" cy="500.40" r="1.45" fill="#4fae25" stroke="#111" stroke-width="0.7"/>
<circle cx="213.10" cy="491.57" r="1.45" fill="#4fae25" stroke="#111" stroke-width="0.7"/>
<circle cx="196.40" cy="501.28" r="1.45" fill="#4fae25" stroke="#111" stroke-width="0.7"/>
<circle cx="213.10" cy="435.95" r="1.45" fill="#4fae25" stroke="#111" stroke-width="0.7"/>
<circle cx="196.40" cy="509.23" r="1.45" fill="#4fae25" stroke="#111" stroke-width="0.7"/>
<circle cx="213.10" cy="455.38" r="1.45" fill="#4fae25" stroke="#111" stroke-width="0.7"/>
<circle cx="196.40" cy="541.01" r="1.45" fill="#4fae25" stroke="#111" stroke-width="0.7"/>
<circle cx="213.10" cy="535.71" r="1.45" fill="#4fae25" stroke="#111" stroke-width="0.7"/>
<text x="268.45" y="393.00" font-size="7" text-anchor="middle" textLength="17.30" lengthAdjust="spacingAndGlyphs" fill="#222">n = 8</text>
<text x="288.95" y="410.80" font-size="5.6" text-anchor="middle" textLength="22.50" lengthAdjust="spacingAndGlyphs" fill="#333">P=0.008</text>
<text x="236.50" y="481.60" font-size="10.0" text-anchor="middle" textLength="117.70" lengthAdjust="spacingAndGlyphs" transform="rotate(-90 236.50 481.60)" fill="#222">Normalized <tspan font-style="italic">miR-29b</tspan> expression</text>
<line x1="268.70" y1="409.00" x2="268.70" y2="553.80" stroke="#000" stroke-width="1.45"/>
<line x1="264.40" y1="412.70" x2="268.70" y2="412.70" stroke="#000" stroke-width="1.1"/>
<text x="260.00" y="414.80" font-size="7.4" text-anchor="end" fill="#222">5000</text>
<line x1="264.40" y1="440.92" x2="268.70" y2="440.92" stroke="#000" stroke-width="1.1"/>
<text x="260.00" y="443.02" font-size="7.4" text-anchor="end" fill="#222">4000</text>
<line x1="264.40" y1="469.14" x2="268.70" y2="469.14" stroke="#000" stroke-width="1.1"/>
<text x="260.00" y="471.24" font-size="7.4" text-anchor="end" fill="#222">3000</text>
<line x1="264.40" y1="497.36" x2="268.70" y2="497.36" stroke="#000" stroke-width="1.1"/>
<text x="260.00" y="499.46" font-size="7.4" text-anchor="end" fill="#222">2000</text>
<line x1="264.40" y1="525.58" x2="268.70" y2="525.58" stroke="#000" stroke-width="1.1"/>
<text x="260.00" y="527.68" font-size="7.4" text-anchor="end" fill="#222">1000</text>
<line x1="264.40" y1="553.80" x2="268.70" y2="553.80" stroke="#000" stroke-width="1.1"/>
<text x="260.00" y="555.90" font-size="7.4" text-anchor="end" fill="#222">0</text>
<line x1="268.00" y1="553.80" x2="301.50" y2="553.80" stroke="#000" stroke-width="1.45"/>
<line x1="276.50" y1="553.80" x2="276.50" y2="558.00" stroke="#000" stroke-width="1.1"/>
<line x1="293.10" y1="553.80" x2="293.10" y2="558.00" stroke="#000" stroke-width="1.1"/>
<text x="280.60" y="566.60" font-size="7.6" text-anchor="end" textLength="28.60" lengthAdjust="spacingAndGlyphs" transform="rotate(-45 280.60 566.60)" fill="#222">Pre Idela</text>
<text x="297.20" y="566.60" font-size="7.6" text-anchor="end" textLength="31.80" lengthAdjust="spacingAndGlyphs" transform="rotate(-45 297.20 566.60)" fill="#222">Post Idela</text>
<g>
<line x1="276.50" y1="457.29" x2="293.10" y2="449.39" stroke="#0a0a0a" stroke-width="1.0"/>
<line x1="276.50" y1="474.22" x2="293.10" y2="445.15" stroke="#0a0a0a" stroke-width="1.0"/>
<line x1="276.50" y1="490.30" x2="293.10" y2="456.44" stroke="#0a0a0a" stroke-width="1.0"/>
<line x1="276.50" y1="491.72" x2="293.10" y2="464.91" stroke="#0a0a0a" stroke-width="1.0"/>
<line x1="276.50" y1="495.10" x2="293.10" y2="476.19" stroke="#0a0a0a" stroke-width="1.0"/>
<line x1="276.50" y1="515.14" x2="293.10" y2="480.43" stroke="#0a0a0a" stroke-width="1.0"/>
<line x1="276.50" y1="525.02" x2="293.10" y2="517.11" stroke="#0a0a0a" stroke-width="1.0"/>
<line x1="276.50" y1="537.43" x2="293.10" y2="535.46" stroke="#0a0a0a" stroke-width="1.0"/>
</g>
<path d="M276.50 455.64L278.15 457.29L276.50 458.94L274.85 457.29Z" fill="#c89612" stroke="#000" stroke-width="0.75"/>
<path d="M293.10 447.74L294.75 449.39L293.10 451.04L291.45 449.39Z" fill="#c89612" stroke="#000" stroke-width="0.75"/>
<path d="M276.50 472.57L278.15 474.22L276.50 475.87L274.85 474.22Z" fill="#c89612" stroke="#000" stroke-width="0.75"/>
<path d="M293.10 443.50L294.75 445.15L293.10 446.80L291.45 445.15Z" fill="#c89612" stroke="#000" stroke-width="0.75"/>
<path d="M276.50 488.65L278.15 490.30L276.50 491.95L274.85 490.30Z" fill="#c89612" stroke="#000" stroke-width="0.75"/>
<path d="M293.10 454.79L294.75 456.44L293.10 458.09L291.45 456.44Z" fill="#c89612" stroke="#000" stroke-width="0.75"/>
<path d="M276.50 490.07L278.15 491.72L276.50 493.37L274.85 491.72Z" fill="#c89612" stroke="#000" stroke-width="0.75"/>
<path d="M293.10 463.26L294.75 464.91L293.10 466.56L291.45 464.91Z" fill="#c89612" stroke="#000" stroke-width="0.75"/>
<path d="M276.50 493.45L278.15 495.10L276.50 496.75L274.85 495.10Z" fill="#c89612" stroke="#000" stroke-width="0.75"/>
<path d="M293.10 474.55L294.75 476.19L293.10 477.84L291.45 476.19Z" fill="#c89612" stroke="#000" stroke-width="0.75"/>
<path d="M276.50 513.49L278.15 515.14L276.50 516.79L274.85 515.14Z" fill="#c89612" stroke="#000" stroke-width="0.75"/>
<path d="M293.10 478.78L294.75 480.43L293.10 482.08L291.45 480.43Z" fill="#c89612" stroke="#000" stroke-width="0.75"/>
<path d="M276.50 523.37L278.15 525.02L276.50 526.67L274.85 525.02Z" fill="#c89612" stroke="#000" stroke-width="0.75"/>
<path d="M293.10 515.46L294.75 517.11L293.10 518.76L291.45 517.11Z" fill="#c89612" stroke="#000" stroke-width="0.75"/>
<path d="M276.50 535.78L278.15 537.43L276.50 539.08L274.85 537.43Z" fill="#c89612" stroke="#000" stroke-width="0.75"/>
<path d="M293.10 533.81L294.75 535.46L293.10 537.11L291.45 535.46Z" fill="#c89612" stroke="#000" stroke-width="0.75"/>
<text x="362.55" y="393.20" font-size="7" text-anchor="middle" textLength="17.70" lengthAdjust="spacingAndGlyphs" fill="#222">n = 8</text>
<text x="383.15" y="410.40" font-size="5.6" text-anchor="middle" textLength="21.90" lengthAdjust="spacingAndGlyphs" fill="#333">P=0.054</text>
<text x="330.50" y="479.90" font-size="10.0" text-anchor="middle" textLength="116.00" lengthAdjust="spacingAndGlyphs" transform="rotate(-90 330.50 479.90)" fill="#222">Normalized <tspan font-style="italic">miR-29c</tspan> expression</text>
<line x1="362.40" y1="405.50" x2="362.40" y2="554.20" stroke="#000" stroke-width="1.45"/>
<line x1="358.10" y1="409.00" x2="362.40" y2="409.00" stroke="#000" stroke-width="1.1"/>
<text x="353.70" y="411.10" font-size="7.4" text-anchor="end" fill="#222">10000</text>
<line x1="358.10" y1="438.04" x2="362.40" y2="438.04" stroke="#000" stroke-width="1.1"/>
<text x="353.70" y="440.14" font-size="7.4" text-anchor="end" fill="#222">8000</text>
<line x1="358.10" y1="467.08" x2="362.40" y2="467.08" stroke="#000" stroke-width="1.1"/>
<text x="353.70" y="469.18" font-size="7.4" text-anchor="end" fill="#222">6000</text>
<line x1="358.10" y1="496.12" x2="362.40" y2="496.12" stroke="#000" stroke-width="1.1"/>
<text x="353.70" y="498.22" font-size="7.4" text-anchor="end" fill="#222">4000</text>
<line x1="358.10" y1="525.16" x2="362.40" y2="525.16" stroke="#000" stroke-width="1.1"/>
<text x="353.70" y="527.26" font-size="7.4" text-anchor="end" fill="#222">2000</text>
<line x1="358.10" y1="554.20" x2="362.40" y2="554.20" stroke="#000" stroke-width="1.1"/>
<text x="353.70" y="556.30" font-size="7.4" text-anchor="end" fill="#222">0</text>
<line x1="361.70" y1="554.20" x2="396.80" y2="554.20" stroke="#000" stroke-width="1.45"/>
<line x1="370.60" y1="554.20" x2="370.60" y2="558.40" stroke="#000" stroke-width="1.1"/>
<line x1="387.80" y1="554.20" x2="387.80" y2="558.40" stroke="#000" stroke-width="1.1"/>
<text x="374.70" y="567.00" font-size="7.6" text-anchor="end" textLength="28.60" lengthAdjust="spacingAndGlyphs" transform="rotate(-45 374.70 567.00)" fill="#222">Pre Idela</text>
<text x="391.90" y="567.00" font-size="7.6" text-anchor="end" textLength="31.80" lengthAdjust="spacingAndGlyphs" transform="rotate(-45 391.90 567.00)" fill="#222">Post Idela</text>
<g>
<line x1="370.60" y1="439.49" x2="387.80" y2="452.56" stroke="#0a0a0a" stroke-width="1.0"/>
<line x1="370.60" y1="480.87" x2="387.80" y2="454.01" stroke="#0a0a0a" stroke-width="1.0"/>
<line x1="370.60" y1="504.11" x2="387.80" y2="477.24" stroke="#0a0a0a" stroke-width="1.0"/>
<line x1="370.60" y1="517.17" x2="387.80" y2="459.09" stroke="#0a0a0a" stroke-width="1.0"/>
<line x1="370.60" y1="525.89" x2="387.80" y2="493.22" stroke="#0a0a0a" stroke-width="1.0"/>
<line x1="370.60" y1="527.34" x2="387.80" y2="519.35" stroke="#0a0a0a" stroke-width="1.0"/>
<line x1="370.60" y1="530.24" x2="387.80" y2="520.80" stroke="#0a0a0a" stroke-width="1.0"/>
<line x1="370.60" y1="534.60" x2="387.80" y2="531.69" stroke="#0a0a0a" stroke-width="1.0"/>
</g>
<circle cx="370.60" cy="439.49" r="1.4" fill="#4a0612" stroke="#120004" stroke-width="0.7"/>
<circle cx="387.80" cy="452.56" r="1.4" fill="#4a0612" stroke="#120004" stroke-width="0.7"/>
<circle cx="370.60" cy="480.87" r="1.4" fill="#4a0612" stroke="#120004" stroke-width="0.7"/>
<circle cx="387.80" cy="454.01" r="1.4" fill="#4a0612" stroke="#120004" stroke-width="0.7"/>
<circle cx="370.60" cy="504.11" r="1.4" fill="#4a0612" stroke="#120004" stroke-width="0.7"/>
<circle cx="387.80" cy="477.24" r="1.4" fill="#4a0612" stroke="#120004" stroke-width="0.7"/>
<circle cx="370.60" cy="517.17" r="1.4" fill="#4a0612" stroke="#120004" stroke-width="0.7"/>
<circle cx="387.80" cy="459.09" r="1.4" fill="#4a0612" stroke="#120004" stroke-width="0.7"/>
<circle cx="370.60" cy="525.89" r="1.4" fill="#4a0612" stroke="#120004" stroke-width="0.7"/>
<circle cx="387.80" cy="493.22" r="1.4" fill="#4a0612" stroke="#120004" stroke-width="0.7"/>
<circle cx="370.60" cy="527.34" r="1.4" fill="#4a0612" stroke="#120004" stroke-width="0.7"/>
<circle cx="387.80" cy="519.35" r="1.4" fill="#4a0612" stroke="#120004" stroke-width="0.7"/>
<circle cx="370.60" cy="530.24" r="1.4" fill="#4a0612" stroke="#120004" stroke-width="0.7"/>
<circle cx="387.80" cy="520.80" r="1.4" fill="#4a0612" stroke="#120004" stroke-width="0.7"/>
<circle cx="370.60" cy="534.60" r="1.4" fill="#4a0612" stroke="#120004" stroke-width="0.7"/>
<circle cx="387.80" cy="531.69" r="1.4" fill="#4a0612" stroke="#120004" stroke-width="0.7"/>
<text x="460.75" y="392.80" font-size="7" text-anchor="middle" textLength="17.10" lengthAdjust="spacingAndGlyphs" fill="#222">n = 8</text>
<text x="483.10" y="407.90" font-size="5.6" text-anchor="middle" textLength="22.00" lengthAdjust="spacingAndGlyphs" fill="#333">P=0.016</text>
<text x="434.50" y="480.20" font-size="10.0" text-anchor="middle" textLength="108.40" lengthAdjust="spacingAndGlyphs" transform="rotate(-90 434.50 480.20)" fill="#222">Normalized <tspan font-style="italic">TRAF4</tspan> expression</text>
<line x1="462.20" y1="407.00" x2="462.20" y2="554.40" stroke="#000" stroke-width="1.45"/>
<line x1="457.90" y1="410.70" x2="462.20" y2="410.70" stroke="#000" stroke-width="1.1"/>
<text x="453.50" y="412.80" font-size="7.4" text-anchor="end" fill="#222">600</text>
<line x1="457.90" y1="458.60" x2="462.20" y2="458.60" stroke="#000" stroke-width="1.1"/>
<text x="453.50" y="460.70" font-size="7.4" text-anchor="end" fill="#222">400</text>
<line x1="457.90" y1="506.50" x2="462.20" y2="506.50" stroke="#000" stroke-width="1.1"/>
<text x="453.50" y="508.60" font-size="7.4" text-anchor="end" fill="#222">200</text>
<line x1="457.90" y1="554.40" x2="462.20" y2="554.40" stroke="#000" stroke-width="1.1"/>
<text x="453.50" y="556.50" font-size="7.4" text-anchor="end" fill="#222">0</text>
<line x1="461.50" y1="554.40" x2="495.50" y2="554.40" stroke="#000" stroke-width="1.45"/>
<line x1="470.40" y1="554.40" x2="470.40" y2="558.60" stroke="#000" stroke-width="1.1"/>
<line x1="487.50" y1="554.40" x2="487.50" y2="558.60" stroke="#000" stroke-width="1.1"/>
<text x="474.50" y="567.20" font-size="7.6" text-anchor="end" textLength="28.60" lengthAdjust="spacingAndGlyphs" transform="rotate(-45 474.50 567.20)" fill="#222">Pre Idela</text>
<text x="491.60" y="567.20" font-size="7.6" text-anchor="end" textLength="31.80" lengthAdjust="spacingAndGlyphs" transform="rotate(-45 491.60 567.20)" fill="#222">Post Idela</text>
<g>
<line x1="470.40" y1="440.64" x2="487.50" y2="496.92" stroke="#0a0a0a" stroke-width="1.0"/>
<line x1="470.40" y1="462.19" x2="487.50" y2="508.89" stroke="#0a0a0a" stroke-width="1.0"/>
<line x1="470.40" y1="474.17" x2="487.50" y2="523.26" stroke="#0a0a0a" stroke-width="1.0"/>
<line x1="470.40" y1="486.14" x2="487.50" y2="525.66" stroke="#0a0a0a" stroke-width="1.0"/>
<line x1="470.40" y1="494.52" x2="487.50" y2="481.35" stroke="#0a0a0a" stroke-width="1.0"/>
<line x1="470.40" y1="504.10" x2="487.50" y2="529.25" stroke="#0a0a0a" stroke-width="1.0"/>
<line x1="470.40" y1="508.89" x2="487.50" y2="530.45" stroke="#0a0a0a" stroke-width="1.0"/>
<line x1="470.40" y1="510.09" x2="487.50" y2="535.72" stroke="#0a0a0a" stroke-width="1.0"/>
</g>
<circle cx="470.40" cy="440.64" r="1.5" fill="#d0701a" stroke="#201000" stroke-width="0.7"/>
<circle cx="487.50" cy="496.92" r="1.5" fill="#d0701a" stroke="#201000" stroke-width="0.7"/>
<circle cx="470.40" cy="462.19" r="1.5" fill="#d0701a" stroke="#201000" stroke-width="0.7"/>
<circle cx="487.50" cy="508.89" r="1.5" fill="#d0701a" stroke="#201000" stroke-width="0.7"/>
<circle cx="470.40" cy="474.17" r="1.5" fill="#d0701a" stroke="#201000" stroke-width="0.7"/>
<circle cx="487.50" cy="523.26" r="1.5" fill="#d0701a" stroke="#201000" stroke-width="0.7"/>
<circle cx="470.40" cy="486.14" r="1.5" fill="#d0701a" stroke="#201000" stroke-width="0.7"/>
<circle cx="487.50" cy="525.66" r="1.5" fill="#d0701a" stroke="#201000" stroke-width="0.7"/>
<circle cx="470.40" cy="494.52" r="1.5" fill="#d0701a" stroke="#201000" stroke-width="0.7"/>
<circle cx="487.50" cy="481.35" r="1.5" fill="#d0701a" stroke="#201000" stroke-width="0.7"/>
<circle cx="470.40" cy="504.10" r="1.5" fill="#d0701a" stroke="#201000" stroke-width="0.7"/>
<circle cx="487.50" cy="529.25" r="1.5" fill="#d0701a" stroke="#201000" stroke-width="0.7"/>
<circle cx="470.40" cy="508.89" r="1.5" fill="#d0701a" stroke="#201000" stroke-width="0.7"/>
<circle cx="487.50" cy="530.45" r="1.5" fill="#d0701a" stroke="#201000" stroke-width="0.7"/>
<circle cx="470.40" cy="510.09" r="1.5" fill="#d0701a" stroke="#201000" stroke-width="0.7"/>
<circle cx="487.50" cy="535.72" r="1.5" fill="#d0701a" stroke="#201000" stroke-width="0.7"/>
<text x="225.00" y="284.00" font-size="7.7" text-anchor="middle" textLength="35.20" lengthAdjust="spacingAndGlyphs" fill="#222">IBRUTINIB</text>
<line x1="127.50" y1="289.70" x2="321.30" y2="289.70" stroke="#000" stroke-width="1.2"/>
<text x="86.20" y="320.40" font-size="7.7" text-anchor="start" textLength="21.80" lengthAdjust="spacingAndGlyphs" transform="rotate(-45 86.20 320.40)" fill="#222">Pre Ibr</text>
<text x="121.20" y="320.40" font-size="7.7" text-anchor="start" textLength="24.50" lengthAdjust="spacingAndGlyphs" transform="rotate(-45 121.20 320.40)" fill="#222">Week 1</text>
<text x="156.30" y="320.40" font-size="7.7" text-anchor="start" textLength="24.50" lengthAdjust="spacingAndGlyphs" transform="rotate(-45 156.30 320.40)" fill="#222">Week 2</text>
<text x="191.90" y="320.40" font-size="7.7" text-anchor="start" textLength="24.50" lengthAdjust="spacingAndGlyphs" transform="rotate(-45 191.90 320.40)" fill="#222">Week 4</text>
<text x="225.80" y="320.40" font-size="7.7" text-anchor="start" textLength="24.50" lengthAdjust="spacingAndGlyphs" transform="rotate(-45 225.80 320.40)" fill="#222">Week 8</text>
<text x="263.00" y="320.40" font-size="7.7" text-anchor="start" textLength="27.50" lengthAdjust="spacingAndGlyphs" transform="rotate(-45 263.00 320.40)" fill="#222">Week 12</text>
<text x="299.00" y="320.40" font-size="7.7" text-anchor="start" textLength="27.50" lengthAdjust="spacingAndGlyphs" transform="rotate(-45 299.00 320.40)" fill="#222">Week 24</text>
<rect x="76.60" y="325.60" width="241.40" height="13.80" fill="#f8f8f8" stroke="#000" stroke-width="1.2"/>
<rect x="76.60" y="343.30" width="241.40" height="13.50" fill="#fafafa" stroke="#000" stroke-width="1.2"/>
<rect x="78.60" y="330.30" width="23.20" height="4.80" rx="1.68" fill="#000" fill-opacity="1.0" filter="url(#b1)"/>
<rect x="112.00" y="330.70" width="26.50" height="4.60" rx="1.61" fill="#000" fill-opacity="0.55" filter="url(#b1)"/>
<rect x="148.50" y="330.80" width="23.50" height="4.80" rx="1.68" fill="#000" fill-opacity="0.2" filter="url(#b1)"/>
<rect x="184.00" y="330.80" width="23.50" height="4.80" rx="1.68" fill="#000" fill-opacity="0.27" filter="url(#b1)"/>
<rect x="217.00" y="330.80" width="25.50" height="4.80" rx="1.68" fill="#000" fill-opacity="0.25" filter="url(#b1)"/>
<rect x="254.00" y="330.80" width="26.00" height="4.80" rx="1.68" fill="#000" fill-opacity="0.24" filter="url(#b1)"/>
<rect x="290.50" y="330.80" width="25.00" height="4.80" rx="1.68" fill="#000" fill-opacity="0.17" filter="url(#b1)"/>
<ellipse cx="90.20" cy="349.20" rx="13.00" ry="1.60" fill="#000" fill-opacity="0.8" filter="url(#b05)" transform="rotate(2 90.20 349.20)"/>
<ellipse cx="125.20" cy="349.20" rx="13.00" ry="1.60" fill="#000" fill-opacity="0.8" filter="url(#b05)"/>
<ellipse cx="160.30" cy="349.20" rx="13.00" ry="1.50" fill="#000" fill-opacity="0.8" filter="url(#b05)" transform="rotate(-1 160.30 349.20)"/>
<ellipse cx="195.90" cy="349.20" rx="13.00" ry="1.70" fill="#000" fill-opacity="0.85" filter="url(#b05)"/>
<ellipse cx="229.80" cy="349.20" rx="13.00" ry="1.70" fill="#000" fill-opacity="0.88" filter="url(#b05)"/>
<ellipse cx="267.00" cy="349.20" rx="13.00" ry="1.50" fill="#000" fill-opacity="0.78" filter="url(#b05)"/>
<ellipse cx="303.00" cy="349.20" rx="13.00" ry="2.10" fill="#000" fill-opacity="1.0" filter="url(#b05)" transform="rotate(-2 303.00 349.20)"/>
<text x="71.50" y="340.20" font-size="7.5" text-anchor="end" textLength="36.90" lengthAdjust="spacingAndGlyphs" fill="#222">TRAF4 (50)</text>
<text x="71.50" y="354.00" font-size="7.5" text-anchor="end" textLength="40.80" lengthAdjust="spacingAndGlyphs" fill="#222">GAPDH (37)</text>
<text x="447.50" y="283.40" font-size="7.7" text-anchor="middle" textLength="35.20" lengthAdjust="spacingAndGlyphs" fill="#222">IBRUTINIB</text>
<line x1="425.80" y1="288.00" x2="468.00" y2="288.00" stroke="#000" stroke-width="1.2"/>
<text x="389.80" y="315.70" font-size="7.7" text-anchor="start" textLength="22.30" lengthAdjust="spacingAndGlyphs" transform="rotate(-45 389.80 315.70)" fill="#222">Pre Ibr</text>
<text x="418.50" y="315.70" font-size="7.7" text-anchor="start" textLength="25.80" lengthAdjust="spacingAndGlyphs" transform="rotate(-45 418.50 315.70)" fill="#222">Week 3</text>
<text x="451.00" y="315.70" font-size="7.7" text-anchor="start" textLength="25.80" lengthAdjust="spacingAndGlyphs" transform="rotate(-45 451.00 315.70)" fill="#222">Week 6</text>
<rect x="380.60" y="320.80" width="90.20" height="13.70" fill="#f9f9f9" stroke="#000" stroke-width="1.2"/>
<rect x="380.60" y="339.50" width="90.20" height="15.50" fill="#f8f8f8" stroke="#000" stroke-width="1.2"/>
<rect x="382.00" y="325.40" width="23.50" height="5.00" rx="1.75" fill="#000" fill-opacity="1.0" filter="url(#b1)"/>
<rect x="412.00" y="326.55" width="20.40" height="3.50" rx="1.22" fill="#000" fill-opacity="0.13" filter="url(#b1)"/>
<rect x="442.50" y="326.55" width="20.20" height="3.50" rx="1.22" fill="#000" fill-opacity="0.15" filter="url(#b1)"/>
<rect x="384.50" y="343.80" width="23.30" height="5.60" rx="1.96" fill="#000" fill-opacity="0.72" filter="url(#b1)"/>
<rect x="385.00" y="343.90" width="22.30" height="2.60" rx="0.91" fill="#000" fill-opacity="0.55" filter="url(#b05)"/>
<rect x="412.50" y="343.80" width="24.50" height="5.60" rx="1.96" fill="#000" fill-opacity="0.72" filter="url(#b1)"/>
<rect x="413.00" y="343.90" width="23.50" height="2.60" rx="0.91" fill="#000" fill-opacity="0.55" filter="url(#b05)"/>
<rect x="440.50" y="343.80" width="22.50" height="5.60" rx="1.96" fill="#000" fill-opacity="0.72" filter="url(#b1)"/>
<rect x="441.00" y="343.90" width="21.50" height="2.60" rx="0.91" fill="#000" fill-opacity="0.55" filter="url(#b05)"/>
<text x="376.10" y="333.00" font-size="7.5" text-anchor="end" textLength="37.40" lengthAdjust="spacingAndGlyphs" fill="#222">TRAF4 (50)</text>
<text x="376.10" y="353.30" font-size="7.5" text-anchor="end" textLength="40.90" lengthAdjust="spacingAndGlyphs" fill="#222">GAPDH (37)</text>
<text x="135.60" y="632.60" font-size="7.4" text-anchor="middle" font-style="italic" textLength="23.80" lengthAdjust="spacingAndGlyphs" fill="#222">CLL 50</text>
<text x="76.80" y="649.40" font-size="7.9" text-anchor="end" font-weight="bold" textLength="25.00" lengthAdjust="spacingAndGlyphs" fill="#111">CD40L:</text>
<text x="76.80" y="665.00" font-size="7.9" text-anchor="end" font-weight="bold" textLength="11.80" lengthAdjust="spacingAndGlyphs" fill="#111">Ibr:</text>
<text x="98.40" y="649.40" font-size="7.4" text-anchor="middle" fill="#222">-</text>
<text x="98.40" y="665.00" font-size="7.4" text-anchor="middle" fill="#222">-</text>
<text x="122.00" y="649.40" font-size="7.4" text-anchor="middle" fill="#222">-</text>
<text x="122.00" y="665.00" font-size="7.4" text-anchor="middle" fill="#222">+</text>
<text x="150.00" y="649.40" font-size="7.4" text-anchor="middle" fill="#222">+</text>
<text x="150.00" y="665.00" font-size="7.4" text-anchor="middle" fill="#222">-</text>
<text x="171.20" y="649.40" font-size="7.4" text-anchor="middle" fill="#222">+</text>
<text x="171.20" y="665.00" font-size="7.4" text-anchor="middle" fill="#222">+</text>
<rect x="84.90" y="670.00" width="101.90" height="17.00" fill="#eeeeee" stroke="#000" stroke-width="1.2"/>
<rect x="91.30" y="673.90" width="18.20" height="3.20" rx="1.12" fill="#000" fill-opacity="0.82" filter="url(#b1)"/>
<rect x="142.00" y="673.00" width="17.50" height="3.20" rx="1.12" fill="#000" fill-opacity="0.82" filter="url(#b1)"/>
<rect x="179.50" y="675.70" width="5.50" height="2.60" rx="0.91" fill="#000" fill-opacity="0.7" filter="url(#b1)"/>
<rect x="117.00" y="675.00" width="11.00" height="2.00" rx="0.70" fill="#000" fill-opacity="0.08" filter="url(#b1)"/>
<text x="80.20" y="684.20" font-size="7.9" text-anchor="end" textLength="37.00" lengthAdjust="spacingAndGlyphs" fill="#222">TRAF4 (50)</text>
<rect x="84.90" y="696.30" width="101.90" height="18.10" fill="#f8f8f8" stroke="#000" stroke-width="1.2"/>
<rect x="141.00" y="703.10" width="17.30" height="6.60" rx="2.31" fill="#000" fill-opacity="0.5" filter="url(#b2)"/>
<rect x="141.00" y="703.80" width="5.00" height="6.00" rx="2.10" fill="#000" fill-opacity="0.45" filter="url(#b1)"/>
<rect x="153.50" y="703.10" width="4.80" height="5.00" rx="1.75" fill="#000" fill-opacity="0.4" filter="url(#b1)"/>
<rect x="143.00" y="702.90" width="14.00" height="2.20" rx="0.77" fill="#000" fill-opacity="0.3" filter="url(#b05)"/>
<rect x="164.80" y="704.40" width="3.20" height="2.20" rx="0.77" fill="#000" fill-opacity="0.22" filter="url(#b1)"/>
<rect x="171.80" y="704.40" width="3.20" height="2.20" rx="0.77" fill="#000" fill-opacity="0.18" filter="url(#b1)"/>
<rect x="179.00" y="704.40" width="3.50" height="2.20" rx="0.77" fill="#000" fill-opacity="0.22" filter="url(#b1)"/>
<text x="80.20" y="707.90" font-size="7.9" text-anchor="end" textLength="49.20" lengthAdjust="spacingAndGlyphs" fill="#222">pIKK&#945;&#946; (85,87)</text>
<rect x="84.90" y="723.30" width="101.90" height="18.90" fill="#f8f8f8" stroke="#000" stroke-width="1.2"/>
<rect x="86.80" y="729.30" width="18.80" height="6.20" rx="2.17" fill="#000" fill-opacity="0.92" filter="url(#b1)"/>
<rect x="112.50" y="729.10" width="19.70" height="6.20" rx="2.17" fill="#000" fill-opacity="0.92" filter="url(#b1)"/>
<rect x="139.00" y="729.40" width="19.00" height="5.80" rx="2.03" fill="#000" fill-opacity="0.88" filter="url(#b1)"/>
<rect x="165.60" y="727.80" width="18.60" height="6.20" rx="2.17" fill="#000" fill-opacity="0.92" filter="url(#b1)"/>
<text x="80.20" y="736.80" font-size="7.9" text-anchor="end" textLength="30.80" lengthAdjust="spacingAndGlyphs" fill="#222">IKK&#945; (85)</text>
<rect x="84.90" y="753.70" width="101.90" height="16.80" fill="#f8f8f8" stroke="#000" stroke-width="1.2"/>
<rect x="86.80" y="761.10" width="19.40" height="5.60" rx="1.96" fill="#000" fill-opacity="0.95" filter="url(#b1)"/>
<rect x="112.50" y="760.40" width="20.20" height="5.60" rx="1.96" fill="#000" fill-opacity="0.95" filter="url(#b1)"/>
<rect x="139.00" y="760.10" width="19.00" height="5.40" rx="1.89" fill="#000" fill-opacity="0.95" filter="url(#b1)"/>
<rect x="165.60" y="758.10" width="18.60" height="5.80" rx="2.03" fill="#000" fill-opacity="0.97" filter="url(#b1)"/>
<text x="80.20" y="766.80" font-size="7.9" text-anchor="end" textLength="30.00" lengthAdjust="spacingAndGlyphs" fill="#222">IKK&#946; (87)</text>
<rect x="84.90" y="782.10" width="101.90" height="19.20" fill="#f8f8f8" stroke="#000" stroke-width="1.2"/>
<rect x="86.80" y="790.20" width="19.40" height="5.60" rx="1.96" fill="#000" fill-opacity="0.93" filter="url(#b1)"/>
<rect x="112.80" y="789.70" width="20.40" height="5.80" rx="2.03" fill="#000" fill-opacity="0.93" filter="url(#b1)"/>
<rect x="139.80" y="790.90" width="18.20" height="5.00" rx="1.75" fill="#000" fill-opacity="0.88" filter="url(#b1)"/>
<rect x="165.60" y="790.20" width="18.60" height="5.60" rx="1.96" fill="#000" fill-opacity="0.92" filter="url(#b1)"/>
<text x="80.20" y="795.60" font-size="7.9" text-anchor="end" textLength="40.80" lengthAdjust="spacingAndGlyphs" fill="#222">GAPDH (37)</text>
<text x="305.30" y="633.60" font-size="7.4" text-anchor="middle" font-style="italic" textLength="23.80" lengthAdjust="spacingAndGlyphs" fill="#222">CLL 63</text>
<text x="246.00" y="650.10" font-size="7.9" text-anchor="end" font-weight="bold" textLength="25.00" lengthAdjust="spacingAndGlyphs" fill="#111">CD40L:</text>
<text x="246.00" y="666.00" font-size="7.9" text-anchor="end" font-weight="bold" textLength="11.80" lengthAdjust="spacingAndGlyphs" fill="#111">Ibr:</text>
<text x="267.90" y="650.10" font-size="7.4" text-anchor="middle" fill="#222">-</text>
<text x="267.90" y="666.00" font-size="7.4" text-anchor="middle" fill="#222">-</text>
<text x="291.00" y="650.10" font-size="7.4" text-anchor="middle" fill="#222">-</text>
<text x="291.00" y="666.00" font-size="7.4" text-anchor="middle" fill="#222">+</text>
<text x="318.80" y="650.10" font-size="7.4" text-anchor="middle" fill="#222">+</text>
<text x="318.80" y="666.00" font-size="7.4" text-anchor="middle" fill="#222">-</text>
<text x="339.90" y="650.10" font-size="7.4" text-anchor="middle" fill="#222">+</text>
<text x="339.90" y="666.00" font-size="7.4" text-anchor="middle" fill="#222">+</text>
<rect x="256.80" y="670.60" width="100.20" height="16.90" fill="#f0f0f0" stroke="#000" stroke-width="1.2"/>
<rect x="262.50" y="677.98" width="18.50" height="3.04" rx="1.14" fill="#000" fill-opacity="0.66" filter="url(#b1)"/>
<ellipse cx="264.70" cy="679.50" rx="3.4" ry="1.90" fill="#000" fill-opacity="0.52" filter="url(#b1)"/>
<ellipse cx="278.80" cy="679.50" rx="3.4" ry="1.90" fill="#000" fill-opacity="0.52" filter="url(#b1)"/>
<rect x="313.50" y="678.06" width="17.00" height="2.88" rx="1.08" fill="#000" fill-opacity="0.63" filter="url(#b1)"/>
<ellipse cx="315.70" cy="679.50" rx="3.4" ry="1.80" fill="#000" fill-opacity="0.50" filter="url(#b1)"/>
<ellipse cx="328.30" cy="679.50" rx="3.4" ry="1.80" fill="#000" fill-opacity="0.50" filter="url(#b1)"/>
<rect x="287.00" y="679.00" width="9.00" height="2.00" rx="0.70" fill="#000" fill-opacity="0.1" filter="url(#b1)"/>
<rect x="335.00" y="678.75" width="19.00" height="2.50" rx="0.88" fill="#000" fill-opacity="0.08" filter="url(#b1)"/>
<text x="249.50" y="684.80" font-size="7.9" text-anchor="end" textLength="38.00" lengthAdjust="spacingAndGlyphs" fill="#222">TRAF4 (50)</text>
<rect x="256.80" y="696.00" width="100.20" height="19.00" fill="#f8f8f8" stroke="#000" stroke-width="1.2"/>
<rect x="311.50" y="702.50" width="18.50" height="5.60" rx="1.96" fill="#000" fill-opacity="0.72" filter="url(#b1)"/>
<rect x="338.50" y="704.70" width="16.50" height="4.60" rx="1.61" fill="#000" fill-opacity="0.66" filter="url(#b1)"/>
<rect x="274.00" y="707.00" width="4.00" height="2.00" rx="0.70" fill="#000" fill-opacity="0.16" filter="url(#b1)"/>
<rect x="285.50" y="706.50" width="4.00" height="2.00" rx="0.70" fill="#000" fill-opacity="0.2" filter="url(#b1)"/>
<rect x="301.00" y="707.00" width="4.00" height="2.00" rx="0.70" fill="#000" fill-opacity="0.16" filter="url(#b1)"/>
<text x="249.50" y="707.30" font-size="7.9" text-anchor="end" textLength="49.10" lengthAdjust="spacingAndGlyphs" fill="#222">pIKK&#945;&#946; (85,87)</text>
<rect x="256.80" y="724.20" width="100.20" height="18.30" fill="#efefef" stroke="#000" stroke-width="1.2"/>
<rect x="260.00" y="731.04" width="18.00" height="5.92" rx="2.22" fill="#000" fill-opacity="0.56" filter="url(#b2)"/>
<ellipse cx="262.20" cy="734.00" rx="3.4" ry="3.70" fill="#000" fill-opacity="0.44" filter="url(#b2)"/>
<ellipse cx="275.80" cy="734.00" rx="3.4" ry="3.70" fill="#000" fill-opacity="0.44" filter="url(#b2)"/>
<rect x="285.00" y="731.04" width="18.00" height="5.92" rx="2.22" fill="#000" fill-opacity="0.55" filter="url(#b2)"/>
<ellipse cx="287.20" cy="734.00" rx="3.4" ry="3.70" fill="#000" fill-opacity="0.43" filter="url(#b2)"/>
<ellipse cx="300.80" cy="734.00" rx="3.4" ry="3.70" fill="#000" fill-opacity="0.43" filter="url(#b2)"/>
<rect x="310.00" y="730.80" width="18.00" height="5.60" rx="2.10" fill="#000" fill-opacity="0.56" filter="url(#b2)"/>
<ellipse cx="312.20" cy="733.60" rx="3.4" ry="3.50" fill="#000" fill-opacity="0.44" filter="url(#b2)"/>
<ellipse cx="325.80" cy="733.60" rx="3.4" ry="3.50" fill="#000" fill-opacity="0.44" filter="url(#b2)"/>
<rect x="336.00" y="730.14" width="16.50" height="5.92" rx="2.22" fill="#000" fill-opacity="0.57" filter="url(#b2)"/>
<ellipse cx="338.20" cy="733.10" rx="3.4" ry="3.70" fill="#000" fill-opacity="0.45" filter="url(#b2)"/>
<ellipse cx="350.30" cy="733.10" rx="3.4" ry="3.70" fill="#000" fill-opacity="0.45" filter="url(#b2)"/>
<text x="249.50" y="738.20" font-size="7.9" text-anchor="end" textLength="30.10" lengthAdjust="spacingAndGlyphs" fill="#222">IKK&#945; (85)</text>
<rect x="256.80" y="754.10" width="100.20" height="16.40" fill="#f2f2f2" stroke="#000" stroke-width="1.2"/>
<rect x="260.00" y="761.20" width="18.00" height="4.80" rx="1.80" fill="#000" fill-opacity="0.64" filter="url(#b1)"/>
<ellipse cx="262.20" cy="763.60" rx="3.4" ry="3.00" fill="#000" fill-opacity="0.51" filter="url(#b1)"/>
<ellipse cx="275.80" cy="763.60" rx="3.4" ry="3.00" fill="#000" fill-opacity="0.51" filter="url(#b1)"/>
<rect x="285.00" y="760.60" width="18.00" height="4.80" rx="1.80" fill="#000" fill-opacity="0.64" filter="url(#b1)"/>
<ellipse cx="287.20" cy="763.00" rx="3.4" ry="3.00" fill="#000" fill-opacity="0.51" filter="url(#b1)"/>
<ellipse cx="300.80" cy="763.00" rx="3.4" ry="3.00" fill="#000" fill-opacity="0.51" filter="url(#b1)"/>
<rect x="310.00" y="760.96" width="18.00" height="4.48" rx="1.68" fill="#000" fill-opacity="0.63" filter="url(#b1)"/>
<ellipse cx="312.20" cy="763.20" rx="3.4" ry="2.80" fill="#000" fill-opacity="0.50" filter="url(#b1)"/>
<ellipse cx="325.80" cy="763.20" rx="3.4" ry="2.80" fill="#000" fill-opacity="0.50" filter="url(#b1)"/>
<rect x="336.00" y="759.20" width="16.50" height="4.80" rx="1.80" fill="#000" fill-opacity="0.66" filter="url(#b1)"/>
<ellipse cx="338.20" cy="761.60" rx="3.4" ry="3.00" fill="#000" fill-opacity="0.52" filter="url(#b1)"/>
<ellipse cx="350.30" cy="761.60" rx="3.4" ry="3.00" fill="#000" fill-opacity="0.52" filter="url(#b1)"/>
<text x="249.50" y="768.00" font-size="7.9" text-anchor="end" textLength="30.10" lengthAdjust="spacingAndGlyphs" fill="#222">IKK&#946; (87)</text>
<rect x="256.80" y="781.40" width="100.20" height="19.80" fill="#f6f6f6" stroke="#000" stroke-width="1.2"/>
<rect x="260.00" y="788.84" width="19.00" height="4.32" rx="1.62" fill="#000" fill-opacity="0.56" filter="url(#b1)"/>
<ellipse cx="262.20" cy="791.00" rx="3.4" ry="2.70" fill="#000" fill-opacity="0.44" filter="url(#b1)"/>
<ellipse cx="276.80" cy="791.00" rx="3.4" ry="2.70" fill="#000" fill-opacity="0.44" filter="url(#b1)"/>
<rect x="285.00" y="788.80" width="19.00" height="4.80" rx="1.80" fill="#000" fill-opacity="0.64" filter="url(#b1)"/>
<ellipse cx="287.20" cy="791.20" rx="3.4" ry="3.00" fill="#000" fill-opacity="0.51" filter="url(#b1)"/>
<ellipse cx="301.80" cy="791.20" rx="3.4" ry="3.00" fill="#000" fill-opacity="0.51" filter="url(#b1)"/>
<rect x="311.00" y="789.76" width="17.00" height="3.68" rx="1.38" fill="#000" fill-opacity="0.52" filter="url(#b1)"/>
<ellipse cx="313.20" cy="791.60" rx="3.4" ry="2.30" fill="#000" fill-opacity="0.41" filter="url(#b1)"/>
<ellipse cx="325.80" cy="791.60" rx="3.4" ry="2.30" fill="#000" fill-opacity="0.41" filter="url(#b1)"/>
<rect x="336.00" y="789.56" width="16.50" height="3.68" rx="1.38" fill="#000" fill-opacity="0.50" filter="url(#b1)"/>
<ellipse cx="338.20" cy="791.40" rx="3.4" ry="2.30" fill="#000" fill-opacity="0.40" filter="url(#b1)"/>
<ellipse cx="350.30" cy="791.40" rx="3.4" ry="2.30" fill="#000" fill-opacity="0.40" filter="url(#b1)"/>
<text x="249.50" y="795.60" font-size="7.9" text-anchor="end" textLength="41.50" lengthAdjust="spacingAndGlyphs" fill="#222">GAPDH (37)</text>
<rect x="435.2" y="616.7" width="5.4" height="5.3" fill="#d9a397"/>
<rect x="435.2" y="629.0" width="5.4" height="5.5" fill="#b7484b"/>
<text x="445.20" y="622.00" font-size="7.2" text-anchor="start" textLength="43.00" lengthAdjust="spacingAndGlyphs" fill="#222">unstimulated</text>
<text x="445.20" y="634.40" font-size="7.2" text-anchor="start" textLength="47.30" lengthAdjust="spacingAndGlyphs" fill="#222">CD40L (3 min)</text>
<text x="429.50" y="646.40" font-size="7" text-anchor="middle" textLength="13.00" lengthAdjust="spacingAndGlyphs" fill="#222">n=5</text>
<text x="481.70" y="658.70" font-size="5.6" text-anchor="middle" textLength="21.50" lengthAdjust="spacingAndGlyphs" fill="#333">P=0.021</text>
<path d="M470.7 667.3V663.8H492.5V667.3" fill="none" stroke="#000" stroke-width="1.2"/>
<line x1="434.60" y1="653.80" x2="434.60" y2="801.40" stroke="#000" stroke-width="1.4"/>
<line x1="430.30" y1="664.20" x2="434.60" y2="664.20" stroke="#000" stroke-width="1.1"/>
<text x="426.60" y="666.30" font-size="7.4" text-anchor="end" fill="#222">200</text>
<line x1="430.30" y1="698.43" x2="434.60" y2="698.43" stroke="#000" stroke-width="1.1"/>
<text x="426.60" y="700.53" font-size="7.4" text-anchor="end" fill="#222">150</text>
<line x1="430.30" y1="732.65" x2="434.60" y2="732.65" stroke="#000" stroke-width="1.1"/>
<text x="426.60" y="734.75" font-size="7.4" text-anchor="end" fill="#222">100</text>
<line x1="430.30" y1="766.88" x2="434.60" y2="766.88" stroke="#000" stroke-width="1.1"/>
<text x="426.60" y="768.98" font-size="7.4" text-anchor="end" fill="#222">50</text>
<line x1="430.30" y1="801.10" x2="434.60" y2="801.10" stroke="#000" stroke-width="1.1"/>
<text x="426.60" y="803.20" font-size="7.4" text-anchor="end" fill="#222">0</text>
<line x1="442.10" y1="774.40" x2="442.10" y2="757.29" stroke="#222" stroke-width="1.4"/>
<line x1="439.50" y1="757.29" x2="444.70" y2="757.29" stroke="#222" stroke-width="1.4"/>
<rect x="437.10" y="774.40" width="10.00" height="26.70" fill="#d9a397"/>
<line x1="456.45" y1="767.56" x2="456.45" y2="751.82" stroke="#222" stroke-width="1.4"/>
<line x1="453.85" y1="751.82" x2="459.05" y2="751.82" stroke="#222" stroke-width="1.4"/>
<rect x="451.30" y="767.56" width="10.30" height="33.54" fill="#d9a397"/>
<line x1="470.90" y1="718.96" x2="470.90" y2="696.37" stroke="#222" stroke-width="1.4"/>
<line x1="468.30" y1="696.37" x2="473.50" y2="696.37" stroke="#222" stroke-width="1.4"/>
<rect x="466.00" y="718.96" width="9.80" height="82.14" fill="#b7484b"/>
<line x1="485.90" y1="770.30" x2="485.90" y2="759.69" stroke="#222" stroke-width="1.4"/>
<line x1="483.30" y1="759.69" x2="488.50" y2="759.69" stroke="#222" stroke-width="1.4"/>
<rect x="480.90" y="770.30" width="10.00" height="30.80" fill="#b7484b"/>
<line x1="433.90" y1="801.10" x2="492.60" y2="801.10" stroke="#000" stroke-width="1.4"/>
<line x1="442.10" y1="801.10" x2="442.10" y2="805.50" stroke="#000" stroke-width="1.1"/>
<text x="446.90" y="814.60" font-size="7.6" text-anchor="end" transform="rotate(-45 446.90 814.60)" fill="#222">Pre Ibr</text>
<line x1="456.45" y1="801.10" x2="456.45" y2="805.50" stroke="#000" stroke-width="1.1"/>
<text x="461.25" y="814.60" font-size="7.6" text-anchor="end" transform="rotate(-45 461.25 814.60)" fill="#222">Post Ibr</text>
<line x1="470.90" y1="801.10" x2="470.90" y2="805.50" stroke="#000" stroke-width="1.1"/>
<text x="475.70" y="814.60" font-size="7.6" text-anchor="end" transform="rotate(-45 475.70 814.60)" fill="#222">Pre Ibr</text>
<line x1="485.90" y1="801.10" x2="485.90" y2="805.50" stroke="#000" stroke-width="1.1"/>
<text x="490.70" y="814.60" font-size="7.6" text-anchor="end" transform="rotate(-45 490.70 814.60)" fill="#222">Post Ibr</text>
<text x="406.50" y="727.5" font-size="10" text-anchor="middle" textLength="96.2" lengthAdjust="spacingAndGlyphs" transform="rotate(-90 406.50 727.5)" fill="#222">Normalized pIKK&#945;&#946; levels</text>
</svg></body></html>
